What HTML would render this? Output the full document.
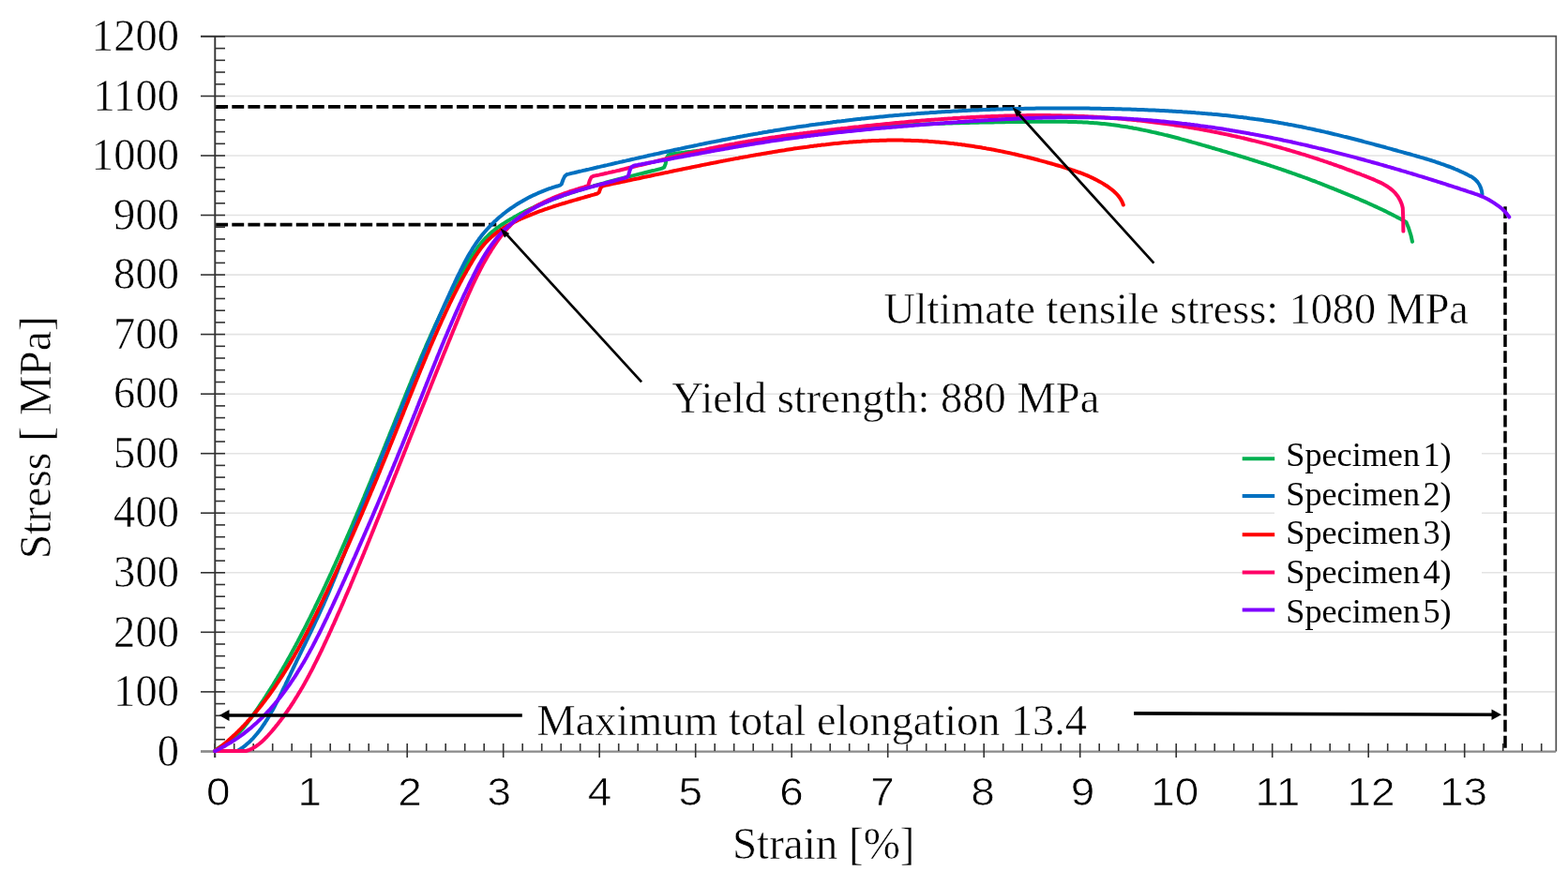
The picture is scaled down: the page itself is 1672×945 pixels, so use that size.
<!DOCTYPE html>
<html><head><meta charset="utf-8"><title>Stress-strain curves</title>
<style>html,body{margin:0;padding:0;background:#fff;width:1672px;height:945px;overflow:hidden}svg{display:block;filter:blur(0.45px)}</style>
</head><body>
<svg width="1672" height="945" viewBox="0 0 1672 945">
<rect width="1672" height="945" fill="#fff"/>
<line x1="229" y1="737.9" x2="1658" y2="737.9" stroke="#e3e3e3" stroke-width="1.6"/>
<line x1="229" y1="674.3" x2="1658" y2="674.3" stroke="#e3e3e3" stroke-width="1.6"/>
<line x1="229" y1="610.8" x2="1658" y2="610.8" stroke="#e3e3e3" stroke-width="1.6"/>
<line x1="229" y1="547.2" x2="1658" y2="547.2" stroke="#e3e3e3" stroke-width="1.6"/>
<line x1="229" y1="483.7" x2="1658" y2="483.7" stroke="#e3e3e3" stroke-width="1.6"/>
<line x1="229" y1="420.2" x2="1658" y2="420.2" stroke="#e3e3e3" stroke-width="1.6"/>
<line x1="229" y1="356.6" x2="1658" y2="356.6" stroke="#e3e3e3" stroke-width="1.6"/>
<line x1="229" y1="293.1" x2="1658" y2="293.1" stroke="#e3e3e3" stroke-width="1.6"/>
<line x1="229" y1="229.5" x2="1658" y2="229.5" stroke="#e3e3e3" stroke-width="1.6"/>
<line x1="229" y1="166" x2="1658" y2="166" stroke="#e3e3e3" stroke-width="1.6"/>
<line x1="229" y1="102.5" x2="1658" y2="102.5" stroke="#e3e3e3" stroke-width="1.6"/>
<path d="M214 38.6H1659.3V801.5" fill="none" stroke="#505050" stroke-width="1.7"/>
<rect x="1359" y="462" width="221" height="205" fill="#fff"/>
<line x1="229.3" y1="38" x2="229.3" y2="808" stroke="#333" stroke-width="1.9"/>
<line x1="214" y1="801.4" x2="240" y2="801.4" stroke="#333" stroke-width="1.6"/>
<line x1="229" y1="788.7" x2="240" y2="788.7" stroke="#333" stroke-width="1.6"/>
<line x1="229" y1="776" x2="240" y2="776" stroke="#333" stroke-width="1.6"/>
<line x1="229" y1="763.3" x2="240" y2="763.3" stroke="#333" stroke-width="1.6"/>
<line x1="229" y1="750.6" x2="240" y2="750.6" stroke="#333" stroke-width="1.6"/>
<line x1="214" y1="737.9" x2="240" y2="737.9" stroke="#333" stroke-width="1.6"/>
<line x1="229" y1="725.2" x2="240" y2="725.2" stroke="#333" stroke-width="1.6"/>
<line x1="229" y1="712.4" x2="240" y2="712.4" stroke="#333" stroke-width="1.6"/>
<line x1="229" y1="699.7" x2="240" y2="699.7" stroke="#333" stroke-width="1.6"/>
<line x1="229" y1="687" x2="240" y2="687" stroke="#333" stroke-width="1.6"/>
<line x1="214" y1="674.3" x2="240" y2="674.3" stroke="#333" stroke-width="1.6"/>
<line x1="229" y1="661.6" x2="240" y2="661.6" stroke="#333" stroke-width="1.6"/>
<line x1="229" y1="648.9" x2="240" y2="648.9" stroke="#333" stroke-width="1.6"/>
<line x1="229" y1="636.2" x2="240" y2="636.2" stroke="#333" stroke-width="1.6"/>
<line x1="229" y1="623.5" x2="240" y2="623.5" stroke="#333" stroke-width="1.6"/>
<line x1="214" y1="610.8" x2="240" y2="610.8" stroke="#333" stroke-width="1.6"/>
<line x1="229" y1="598.1" x2="240" y2="598.1" stroke="#333" stroke-width="1.6"/>
<line x1="229" y1="585.4" x2="240" y2="585.4" stroke="#333" stroke-width="1.6"/>
<line x1="229" y1="572.7" x2="240" y2="572.7" stroke="#333" stroke-width="1.6"/>
<line x1="229" y1="559.9" x2="240" y2="559.9" stroke="#333" stroke-width="1.6"/>
<line x1="214" y1="547.2" x2="240" y2="547.2" stroke="#333" stroke-width="1.6"/>
<line x1="229" y1="534.5" x2="240" y2="534.5" stroke="#333" stroke-width="1.6"/>
<line x1="229" y1="521.8" x2="240" y2="521.8" stroke="#333" stroke-width="1.6"/>
<line x1="229" y1="509.1" x2="240" y2="509.1" stroke="#333" stroke-width="1.6"/>
<line x1="229" y1="496.4" x2="240" y2="496.4" stroke="#333" stroke-width="1.6"/>
<line x1="214" y1="483.7" x2="240" y2="483.7" stroke="#333" stroke-width="1.6"/>
<line x1="229" y1="471" x2="240" y2="471" stroke="#333" stroke-width="1.6"/>
<line x1="229" y1="458.3" x2="240" y2="458.3" stroke="#333" stroke-width="1.6"/>
<line x1="229" y1="445.6" x2="240" y2="445.6" stroke="#333" stroke-width="1.6"/>
<line x1="229" y1="432.9" x2="240" y2="432.9" stroke="#333" stroke-width="1.6"/>
<line x1="214" y1="420.2" x2="240" y2="420.2" stroke="#333" stroke-width="1.6"/>
<line x1="229" y1="407.5" x2="240" y2="407.5" stroke="#333" stroke-width="1.6"/>
<line x1="229" y1="394.7" x2="240" y2="394.7" stroke="#333" stroke-width="1.6"/>
<line x1="229" y1="382" x2="240" y2="382" stroke="#333" stroke-width="1.6"/>
<line x1="229" y1="369.3" x2="240" y2="369.3" stroke="#333" stroke-width="1.6"/>
<line x1="214" y1="356.6" x2="240" y2="356.6" stroke="#333" stroke-width="1.6"/>
<line x1="229" y1="343.9" x2="240" y2="343.9" stroke="#333" stroke-width="1.6"/>
<line x1="229" y1="331.2" x2="240" y2="331.2" stroke="#333" stroke-width="1.6"/>
<line x1="229" y1="318.5" x2="240" y2="318.5" stroke="#333" stroke-width="1.6"/>
<line x1="229" y1="305.8" x2="240" y2="305.8" stroke="#333" stroke-width="1.6"/>
<line x1="214" y1="293.1" x2="240" y2="293.1" stroke="#333" stroke-width="1.6"/>
<line x1="229" y1="280.4" x2="240" y2="280.4" stroke="#333" stroke-width="1.6"/>
<line x1="229" y1="267.7" x2="240" y2="267.7" stroke="#333" stroke-width="1.6"/>
<line x1="229" y1="255" x2="240" y2="255" stroke="#333" stroke-width="1.6"/>
<line x1="229" y1="242.2" x2="240" y2="242.2" stroke="#333" stroke-width="1.6"/>
<line x1="214" y1="229.5" x2="240" y2="229.5" stroke="#333" stroke-width="1.6"/>
<line x1="229" y1="216.8" x2="240" y2="216.8" stroke="#333" stroke-width="1.6"/>
<line x1="229" y1="204.1" x2="240" y2="204.1" stroke="#333" stroke-width="1.6"/>
<line x1="229" y1="191.4" x2="240" y2="191.4" stroke="#333" stroke-width="1.6"/>
<line x1="229" y1="178.7" x2="240" y2="178.7" stroke="#333" stroke-width="1.6"/>
<line x1="214" y1="166" x2="240" y2="166" stroke="#333" stroke-width="1.6"/>
<line x1="229" y1="153.3" x2="240" y2="153.3" stroke="#333" stroke-width="1.6"/>
<line x1="229" y1="140.6" x2="240" y2="140.6" stroke="#333" stroke-width="1.6"/>
<line x1="229" y1="127.9" x2="240" y2="127.9" stroke="#333" stroke-width="1.6"/>
<line x1="229" y1="115.2" x2="240" y2="115.2" stroke="#333" stroke-width="1.6"/>
<line x1="214" y1="102.5" x2="240" y2="102.5" stroke="#333" stroke-width="1.6"/>
<line x1="229" y1="89.8" x2="240" y2="89.8" stroke="#333" stroke-width="1.6"/>
<line x1="229" y1="77" x2="240" y2="77" stroke="#333" stroke-width="1.6"/>
<line x1="229" y1="64.3" x2="240" y2="64.3" stroke="#333" stroke-width="1.6"/>
<line x1="229" y1="51.6" x2="240" y2="51.6" stroke="#333" stroke-width="1.6"/>
<line x1="214" y1="38.9" x2="240" y2="38.9" stroke="#333" stroke-width="1.6"/>
<line x1="214" y1="801.6" x2="1659" y2="801.6" stroke="#8a8a8a" stroke-width="2.2"/>
<line x1="229.2" y1="793" x2="229.2" y2="808" stroke="#333" stroke-width="1.6"/>
<line x1="249.7" y1="793" x2="249.7" y2="801" stroke="#333" stroke-width="1.6"/>
<line x1="270.2" y1="793" x2="270.2" y2="801" stroke="#333" stroke-width="1.6"/>
<line x1="290.7" y1="793" x2="290.7" y2="801" stroke="#333" stroke-width="1.6"/>
<line x1="311.2" y1="793" x2="311.2" y2="801" stroke="#333" stroke-width="1.6"/>
<line x1="331.7" y1="793" x2="331.7" y2="808" stroke="#333" stroke-width="1.6"/>
<line x1="352.2" y1="793" x2="352.2" y2="801" stroke="#333" stroke-width="1.6"/>
<line x1="372.7" y1="793" x2="372.7" y2="801" stroke="#333" stroke-width="1.6"/>
<line x1="393.2" y1="793" x2="393.2" y2="801" stroke="#333" stroke-width="1.6"/>
<line x1="413.7" y1="793" x2="413.7" y2="801" stroke="#333" stroke-width="1.6"/>
<line x1="434.2" y1="793" x2="434.2" y2="808" stroke="#333" stroke-width="1.6"/>
<line x1="454.7" y1="793" x2="454.7" y2="801" stroke="#333" stroke-width="1.6"/>
<line x1="475.2" y1="793" x2="475.2" y2="801" stroke="#333" stroke-width="1.6"/>
<line x1="495.7" y1="793" x2="495.7" y2="801" stroke="#333" stroke-width="1.6"/>
<line x1="516.2" y1="793" x2="516.2" y2="801" stroke="#333" stroke-width="1.6"/>
<line x1="536.7" y1="793" x2="536.7" y2="808" stroke="#333" stroke-width="1.6"/>
<line x1="557.2" y1="793" x2="557.2" y2="801" stroke="#333" stroke-width="1.6"/>
<line x1="577.7" y1="793" x2="577.7" y2="801" stroke="#333" stroke-width="1.6"/>
<line x1="598.2" y1="793" x2="598.2" y2="801" stroke="#333" stroke-width="1.6"/>
<line x1="618.7" y1="793" x2="618.7" y2="801" stroke="#333" stroke-width="1.6"/>
<line x1="639.2" y1="793" x2="639.2" y2="808" stroke="#333" stroke-width="1.6"/>
<line x1="659.7" y1="793" x2="659.7" y2="801" stroke="#333" stroke-width="1.6"/>
<line x1="680.2" y1="793" x2="680.2" y2="801" stroke="#333" stroke-width="1.6"/>
<line x1="700.7" y1="793" x2="700.7" y2="801" stroke="#333" stroke-width="1.6"/>
<line x1="721.2" y1="793" x2="721.2" y2="801" stroke="#333" stroke-width="1.6"/>
<line x1="741.7" y1="793" x2="741.7" y2="808" stroke="#333" stroke-width="1.6"/>
<line x1="762.2" y1="793" x2="762.2" y2="801" stroke="#333" stroke-width="1.6"/>
<line x1="782.7" y1="793" x2="782.7" y2="801" stroke="#333" stroke-width="1.6"/>
<line x1="803.2" y1="793" x2="803.2" y2="801" stroke="#333" stroke-width="1.6"/>
<line x1="823.7" y1="793" x2="823.7" y2="801" stroke="#333" stroke-width="1.6"/>
<line x1="844.2" y1="793" x2="844.2" y2="808" stroke="#333" stroke-width="1.6"/>
<line x1="864.7" y1="793" x2="864.7" y2="801" stroke="#333" stroke-width="1.6"/>
<line x1="885.2" y1="793" x2="885.2" y2="801" stroke="#333" stroke-width="1.6"/>
<line x1="905.7" y1="793" x2="905.7" y2="801" stroke="#333" stroke-width="1.6"/>
<line x1="926.2" y1="793" x2="926.2" y2="801" stroke="#333" stroke-width="1.6"/>
<line x1="946.7" y1="793" x2="946.7" y2="808" stroke="#333" stroke-width="1.6"/>
<line x1="967.2" y1="793" x2="967.2" y2="801" stroke="#333" stroke-width="1.6"/>
<line x1="987.7" y1="793" x2="987.7" y2="801" stroke="#333" stroke-width="1.6"/>
<line x1="1008.2" y1="793" x2="1008.2" y2="801" stroke="#333" stroke-width="1.6"/>
<line x1="1028.7" y1="793" x2="1028.7" y2="801" stroke="#333" stroke-width="1.6"/>
<line x1="1049.2" y1="793" x2="1049.2" y2="808" stroke="#333" stroke-width="1.6"/>
<line x1="1069.7" y1="793" x2="1069.7" y2="801" stroke="#333" stroke-width="1.6"/>
<line x1="1090.2" y1="793" x2="1090.2" y2="801" stroke="#333" stroke-width="1.6"/>
<line x1="1110.7" y1="793" x2="1110.7" y2="801" stroke="#333" stroke-width="1.6"/>
<line x1="1131.2" y1="793" x2="1131.2" y2="801" stroke="#333" stroke-width="1.6"/>
<line x1="1151.7" y1="793" x2="1151.7" y2="808" stroke="#333" stroke-width="1.6"/>
<line x1="1172.2" y1="793" x2="1172.2" y2="801" stroke="#333" stroke-width="1.6"/>
<line x1="1192.7" y1="793" x2="1192.7" y2="801" stroke="#333" stroke-width="1.6"/>
<line x1="1213.2" y1="793" x2="1213.2" y2="801" stroke="#333" stroke-width="1.6"/>
<line x1="1233.7" y1="793" x2="1233.7" y2="801" stroke="#333" stroke-width="1.6"/>
<line x1="1254.2" y1="793" x2="1254.2" y2="808" stroke="#333" stroke-width="1.6"/>
<line x1="1274.7" y1="793" x2="1274.7" y2="801" stroke="#333" stroke-width="1.6"/>
<line x1="1295.2" y1="793" x2="1295.2" y2="801" stroke="#333" stroke-width="1.6"/>
<line x1="1315.7" y1="793" x2="1315.7" y2="801" stroke="#333" stroke-width="1.6"/>
<line x1="1336.2" y1="793" x2="1336.2" y2="801" stroke="#333" stroke-width="1.6"/>
<line x1="1356.7" y1="793" x2="1356.7" y2="808" stroke="#333" stroke-width="1.6"/>
<line x1="1377.2" y1="793" x2="1377.2" y2="801" stroke="#333" stroke-width="1.6"/>
<line x1="1397.7" y1="793" x2="1397.7" y2="801" stroke="#333" stroke-width="1.6"/>
<line x1="1418.2" y1="793" x2="1418.2" y2="801" stroke="#333" stroke-width="1.6"/>
<line x1="1438.7" y1="793" x2="1438.7" y2="801" stroke="#333" stroke-width="1.6"/>
<line x1="1459.2" y1="793" x2="1459.2" y2="808" stroke="#333" stroke-width="1.6"/>
<line x1="1479.7" y1="793" x2="1479.7" y2="801" stroke="#333" stroke-width="1.6"/>
<line x1="1500.2" y1="793" x2="1500.2" y2="801" stroke="#333" stroke-width="1.6"/>
<line x1="1520.7" y1="793" x2="1520.7" y2="801" stroke="#333" stroke-width="1.6"/>
<line x1="1541.2" y1="793" x2="1541.2" y2="801" stroke="#333" stroke-width="1.6"/>
<line x1="1561.7" y1="793" x2="1561.7" y2="808" stroke="#333" stroke-width="1.6"/>
<line x1="1582.2" y1="793" x2="1582.2" y2="801" stroke="#333" stroke-width="1.6"/>
<line x1="1602.7" y1="793" x2="1602.7" y2="801" stroke="#333" stroke-width="1.6"/>
<line x1="1623.2" y1="793" x2="1623.2" y2="801" stroke="#333" stroke-width="1.6"/>
<line x1="1643.7" y1="793" x2="1643.7" y2="801" stroke="#333" stroke-width="1.6"/>
<line x1="230.2" y1="113.9" x2="1088.6" y2="113.9" stroke="#000" stroke-width="3.7" stroke-dasharray="12.9 4.215"/>
<line x1="230.2" y1="239.6" x2="529.3" y2="239.6" stroke="#000" stroke-width="3.7" stroke-dasharray="12.9 4.215"/>
<line x1="1605" y1="220.2" x2="1605" y2="801" stroke="#000" stroke-width="3.5" stroke-dasharray="12.8 4.31"/>
<path d="M229.2 801.1L230.6 799.7L232.1 798.5L233.8 797.3L235.5 796.2L237.3 795.1L239.0 794.1L240.8 793.0L242.5 791.9L244.2 790.8L245.9 789.6L247.4 788.3L249.0 787.0L250.5 785.7L251.9 784.4L253.4 783.0L254.8 781.6L256.1 780.1L257.5 778.7L258.8 777.2L260.0 775.7L261.3 774.1L262.5 772.6L263.7 771.0L264.9 769.4L266.1 767.8L267.3 766.2L268.4 764.6L269.6 763.0L270.7 761.4L271.9 759.7L273.0 758.1L274.2 756.5L275.3 754.8L276.4 753.2L277.5 751.5L278.6 749.9L279.8 748.2L280.9 746.6L281.9 744.9L283.0 743.3L284.1 741.6L285.2 739.9L286.3 738.2L287.3 736.5L288.4 734.9L289.5 733.2L290.5 731.5L291.6 729.8L292.6 728.1L293.6 726.4L294.7 724.7L295.7 723.0L296.7 721.2L297.8 719.5L298.8 717.8L299.8 716.1L300.8 714.4L301.8 712.6L302.8 710.9L303.8 709.2L304.8 707.4L305.8 705.7L306.7 704.0L307.7 702.2L308.7 700.5L309.7 698.7L310.6 697.0L311.6 695.2L312.5 693.4L313.5 691.7L314.4 689.9L315.4 688.2L316.3 686.4L317.3 684.6L318.2 682.8L319.1 681.1L320.1 679.3L321.0 677.5L321.9 675.7L322.8 674.0L323.7 672.2L324.7 670.4L325.6 668.6L326.5 666.8L327.4 665.0L328.3 663.2L329.2 661.4L330.1 659.6L331.0 657.9L331.8 656.1L332.7 654.3L333.6 652.5L334.5 650.7L335.4 648.9L336.2 647.0L337.1 645.2L338.0 643.4L338.8 641.6L339.7 639.8L340.6 638.0L341.4 636.2L342.3 634.4L343.2 632.6L344.0 630.8L344.9 629.0L345.7 627.1L346.6 625.3L347.4 623.5L348.2 621.7L349.1 619.9L349.9 618.1L350.8 616.2L351.6 614.4L352.4 612.6L353.3 610.8L354.1 609.0L354.9 607.1L355.7 605.3L356.6 603.5L357.4 601.7L358.2 599.8L359.0 598.0L359.8 596.2L360.7 594.3L361.5 592.5L362.3 590.7L363.1 588.9L363.9 587.0L364.7 585.2L365.5 583.4L366.3 581.5L367.1 579.7L367.9 577.9L368.7 576.0L369.5 574.2L370.3 572.4L371.1 570.5L371.9 568.7L372.7 566.8L373.5 565.0L374.3 563.2L375.1 561.3L375.9 559.5L376.6 557.6L377.4 555.8L378.2 554.0L379.0 552.1L379.8 550.3L380.5 548.4L381.3 546.6L382.1 544.8L382.9 542.9L383.7 541.1L384.4 539.2L385.2 537.4L386.0 535.5L386.7 533.7L387.5 531.8L388.3 530.0L389.0 528.1L389.8 526.3L390.6 524.4L391.3 522.6L392.1 520.7L392.9 518.9L393.6 517.0L394.4 515.2L395.2 513.3L395.9 511.5L396.7 509.6L397.4 507.8L398.2 505.9L399.0 504.1L399.7 502.2L400.5 500.4L401.2 498.5L402.0 496.7L402.7 494.8L403.5 493.0L404.2 491.1L405.0 489.3L405.8 487.4L406.5 485.6L407.3 483.7L408.0 481.8L408.8 480.0L409.5 478.1L410.3 476.3L411.0 474.4L411.8 472.6L412.5 470.7L413.3 468.9L414.0 467.0L414.8 465.2L415.5 463.3L416.3 461.4L417.0 459.6L417.8 457.7L418.5 455.9L419.3 454.0L420.0 452.2L420.8 450.3L421.5 448.5L422.3 446.6L423.0 444.7L423.8 442.9L424.5 441.0L425.3 439.2L426.0 437.3L426.8 435.5L427.5 433.6L428.3 431.8L429.0 429.9L429.8 428.0L430.5 426.2L431.3 424.3L432.0 422.5L432.8 420.6L433.5 418.8L434.3 416.9L435.0 415.1L435.8 413.2L436.6 411.4L437.3 409.5L438.1 407.7L438.8 405.8L439.6 403.9L440.4 402.1L441.1 400.2L441.9 398.4L442.6 396.5L443.4 394.7L444.2 392.9L444.9 391.0L445.7 389.2L446.5 387.3L447.3 385.5L448.0 383.6L448.8 381.8L449.6 379.9L450.4 378.1L451.2 376.3L452.0 374.4L452.8 372.6L453.6 370.7L454.3 368.9L455.1 367.1L455.9 365.2L456.8 363.4L457.6 361.6L458.4 359.8L459.2 357.9L460.0 356.1L460.8 354.3L461.6 352.5L462.5 350.6L463.3 348.8L464.1 347.0L465.0 345.2L465.8 343.4L466.7 341.6L467.5 339.7L468.4 337.9L469.2 336.1L470.1 334.3L471.0 332.5L471.8 330.7L472.7 328.9L473.6 327.1L474.5 325.3L475.4 323.5L476.3 321.8L477.2 320.0L478.1 318.2L479.0 316.4L479.9 314.6L480.8 312.8L481.7 311.1L482.7 309.3L483.6 307.5L484.5 305.8L485.5 304.0L486.4 302.2L487.4 300.5L488.4 298.7L489.3 297.0L490.3 295.2L491.3 293.5L492.3 291.7L493.3 290.0L494.3 288.2L495.3 286.5L496.3 284.8L497.3 283.0L498.4 281.3L499.4 279.6L500.4 277.9L501.5 276.1L502.5 274.4L503.6 272.7L504.7 271.1L505.8 269.4L506.9 267.7L508.1 266.1L509.2 264.4L510.4 262.8L511.6 261.2L512.8 259.7L514.1 258.1L515.4 256.6L516.7 255.1L518.0 253.7L519.4 252.3L520.8 250.9L522.3 249.5L523.7 248.2L525.3 246.9L526.8 245.7L528.4 244.4L530.0 243.2L531.6 242.1L533.2 240.9L534.9 239.8L536.6 238.7L538.3 237.6L540.0 236.5L541.7 235.5L543.4 234.5L545.1 233.4L546.9 232.4L548.6 231.4L550.4 230.5L552.1 229.5L553.9 228.6L555.7 227.6L557.4 226.7L559.2 225.8L561.0 224.9L562.8 224.0L564.6 223.2L566.4 222.3L568.3 221.5L570.1 220.6L571.9 219.8L573.7 219.0L575.6 218.2L577.4 217.4L579.3 216.7L581.1 215.9L583.0 215.1L584.8 214.4L586.7 213.7L588.6 212.9L590.4 212.2L592.3 211.5L594.2 210.8L596.1 210.2L598.0 209.5L599.9 208.8L601.7 208.2L603.6 207.5L605.5 206.9L607.4 206.2L609.3 205.6L611.2 205.0L613.1 204.4L615.0 203.8L617.0 203.2L618.9 202.6L620.8 202.0L622.7 201.4L624.6 200.8L626.5 200.2L628.5 199.7L630.4 199.1L632.3 198.6L634.2 198.0L636.2 197.5L638.1 196.9L640.0 196.4L641.9 195.9L643.9 195.4L645.8 194.8L647.7 194.3L649.7 193.8L651.6 193.3L653.6 192.8L655.5 192.3L657.4 191.8L659.4 191.3L661.3 190.8L663.3 190.3L665.2 189.8L667.1 189.3L669.1 188.8L671.0 188.3L673.0 187.9L674.9 187.4L676.9 186.9L678.8 186.4L680.7 185.9L682.7 185.4L684.6 185.0L686.6 184.5L688.5 184.0L690.5 183.5L692.4 183.0L694.4 182.5L696.3 182.0L698.2 181.6L700.2 181.1L702.1 180.6L704.1 180.1L706.0 179.6L708.2 178.4L709.6 175.0L710.8 168.8L712.5 165.6L714.5 164.6L714.5 164.4L716.5 164.2L718.5 164.0L720.5 163.7L722.5 163.5L724.4 163.3L726.4 163.1L728.4 162.8L730.4 162.6L732.4 162.3L734.4 162.1L736.4 161.9L738.4 161.6L740.3 161.3L742.3 161.1L744.3 160.8L746.3 160.6L748.3 160.3L750.3 160.0L752.3 159.8L754.2 159.5L756.2 159.2L758.2 159.0L760.2 158.7L762.2 158.4L764.2 158.1L766.1 157.8L768.1 157.6L770.1 157.3L772.1 157.0L774.1 156.7L776.1 156.4L778.0 156.1L780.0 155.8L782.0 155.5L784.0 155.2L786.0 154.9L788.0 154.7L789.9 154.4L791.9 154.1L793.9 153.8L795.9 153.5L797.9 153.2L799.8 152.9L801.8 152.6L803.8 152.3L805.8 152.0L807.8 151.7L809.7 151.4L811.7 151.1L813.7 150.8L815.7 150.5L817.7 150.2L819.7 149.9L821.6 149.6L823.6 149.3L825.6 149.0L827.6 148.7L829.6 148.4L831.5 148.1L833.5 147.8L835.5 147.5L837.5 147.2L839.5 146.9L841.5 146.6L843.4 146.3L845.4 146.0L847.4 145.8L849.4 145.5L851.4 145.2L853.4 144.9L855.3 144.6L857.3 144.3L859.3 144.1L861.3 143.8L863.3 143.5L865.3 143.3L867.2 143.0L869.2 142.7L871.2 142.5L873.2 142.2L875.2 141.9L877.2 141.7L879.2 141.4L881.1 141.2L883.1 140.9L885.1 140.7L887.1 140.5L889.1 140.2L891.1 140.0L893.1 139.8L895.1 139.5L897.0 139.3L899.0 139.1L901.0 138.9L903.0 138.6L905.0 138.4L907.0 138.2L909.0 138.0L911.0 137.8L913.0 137.6L915.0 137.4L917.0 137.3L918.9 137.1L920.9 136.9L922.9 136.7L924.9 136.5L926.9 136.4L928.9 136.2L930.9 136.0L932.9 135.9L934.9 135.7L936.9 135.5L938.9 135.4L940.9 135.2L942.9 135.1L944.9 134.9L946.9 134.8L948.9 134.7L950.9 134.5L952.9 134.4L954.9 134.2L956.9 134.1L958.9 134.0L960.9 133.9L962.9 133.7L964.9 133.6L966.9 133.5L968.9 133.4L970.9 133.3L972.9 133.2L974.9 133.1L976.9 133.0L978.9 132.9L980.9 132.8L982.9 132.7L984.9 132.6L986.9 132.5L988.9 132.4L990.9 132.3L992.9 132.2L994.9 132.1L996.9 132.1L998.9 132.0L1000.9 131.9L1002.9 131.8L1004.9 131.7L1006.9 131.7L1008.9 131.6L1010.9 131.5L1012.9 131.5L1014.9 131.4L1016.9 131.3L1018.9 131.3L1020.9 131.2L1022.9 131.2L1025.0 131.1L1027.0 131.0L1029.0 131.0L1031.0 130.9L1033.0 130.9L1035.0 130.8L1037.0 130.8L1039.0 130.8L1041.0 130.7L1043.0 130.7L1045.0 130.6L1047.0 130.6L1049.0 130.5L1051.0 130.5L1053.0 130.5L1055.0 130.4L1057.0 130.4L1059.1 130.4L1061.1 130.3L1063.1 130.3L1065.1 130.3L1067.1 130.2L1069.1 130.2L1071.1 130.2L1073.1 130.1L1075.1 130.1L1077.1 130.1L1079.1 130.1L1081.1 130.0L1083.1 130.0L1085.1 130.0L1087.1 130.0L1089.1 129.9L1091.2 129.9L1093.2 129.9L1095.2 129.9L1097.2 129.9L1099.2 129.8L1101.2 129.8L1103.2 129.8L1105.2 129.8L1107.2 129.8L1109.2 129.8L1111.2 129.7L1113.2 129.7L1115.2 129.7L1117.2 129.7L1119.2 129.7L1121.2 129.7L1123.2 129.7L1125.3 129.7L1127.3 129.7L1129.3 129.7L1131.3 129.8L1133.3 129.8L1135.3 129.8L1137.3 129.8L1139.3 129.9L1141.3 129.9L1143.3 130.0L1145.3 130.0L1147.3 130.1L1149.3 130.2L1151.3 130.2L1153.3 130.3L1155.2 130.4L1157.2 130.5L1159.2 130.6L1161.2 130.8L1163.2 130.9L1165.2 131.0L1167.2 131.2L1169.2 131.3L1171.2 131.5L1173.2 131.7L1175.1 131.9L1177.1 132.1L1179.1 132.3L1181.1 132.5L1183.1 132.7L1185.1 133.0L1187.0 133.2L1189.0 133.5L1191.0 133.8L1193.0 134.1L1194.9 134.4L1196.9 134.7L1198.9 135.0L1200.9 135.3L1202.8 135.6L1204.8 136.0L1206.8 136.3L1208.7 136.7L1210.7 137.0L1212.7 137.4L1214.6 137.8L1216.6 138.2L1218.6 138.6L1220.5 139.0L1222.5 139.4L1224.4 139.8L1226.4 140.2L1228.4 140.7L1230.3 141.1L1232.3 141.5L1234.2 142.0L1236.2 142.5L1238.1 142.9L1240.1 143.4L1242.0 143.9L1244.0 144.3L1245.9 144.8L1247.9 145.3L1249.8 145.8L1251.8 146.3L1253.7 146.8L1255.7 147.3L1257.6 147.8L1259.6 148.4L1261.5 148.9L1263.4 149.4L1265.4 149.9L1267.3 150.5L1269.3 151.0L1271.2 151.6L1273.1 152.1L1275.1 152.6L1277.0 153.2L1278.9 153.7L1280.9 154.3L1282.8 154.9L1284.7 155.4L1286.7 156.0L1288.6 156.5L1290.5 157.1L1292.5 157.7L1294.4 158.2L1296.3 158.8L1298.3 159.4L1300.2 159.9L1302.1 160.5L1304.0 161.1L1305.9 161.6L1307.9 162.2L1309.8 162.8L1311.7 163.4L1313.6 163.9L1315.6 164.5L1317.5 165.1L1319.4 165.7L1321.3 166.3L1323.2 166.8L1325.1 167.4L1327.1 168.0L1329.0 168.6L1330.9 169.2L1332.8 169.8L1334.7 170.4L1336.6 171.0L1338.5 171.6L1340.4 172.2L1342.3 172.8L1344.2 173.4L1346.1 174.0L1348.0 174.6L1349.9 175.2L1351.8 175.8L1353.7 176.4L1355.6 177.1L1357.5 177.7L1359.4 178.3L1361.3 178.9L1363.2 179.6L1365.1 180.2L1367.0 180.8L1368.9 181.5L1370.8 182.1L1372.7 182.8L1374.6 183.5L1376.5 184.1L1378.4 184.8L1380.2 185.4L1382.1 186.1L1384.0 186.8L1385.9 187.5L1387.8 188.2L1389.7 188.8L1391.5 189.5L1393.4 190.2L1395.3 190.9L1397.2 191.6L1399.0 192.3L1400.9 193.0L1402.8 193.7L1404.7 194.5L1406.5 195.2L1408.4 195.9L1410.3 196.6L1412.1 197.4L1414.0 198.1L1415.9 198.8L1417.7 199.6L1419.6 200.3L1421.5 201.0L1423.3 201.8L1425.2 202.5L1427.0 203.3L1428.9 204.0L1430.7 204.8L1432.6 205.6L1434.4 206.3L1436.3 207.1L1438.1 207.9L1440.0 208.6L1441.8 209.4L1443.7 210.2L1445.5 211.0L1447.4 211.7L1449.2 212.5L1451.1 213.3L1452.9 214.1L1454.7 214.9L1456.6 215.7L1458.4 216.5L1460.2 217.3L1462.0 218.2L1463.9 219.0L1465.7 219.8L1467.5 220.6L1469.3 221.5L1471.1 222.3L1472.9 223.2L1474.7 224.0L1476.5 224.9L1478.3 225.8L1480.1 226.7L1481.9 227.6L1483.7 228.5L1485.5 229.4L1487.2 230.3L1489.0 231.2L1490.8 232.2L1492.5 233.1L1494.3 234.1L1496.0 235.0L1497.8 236.0L1499.5 237.0L1502.0 243.0L1504.5 251.0L1506.0 257.7" fill="none" stroke="#00b050" stroke-width="4.0" stroke-linejoin="round" stroke-linecap="round"/>
<path d="M229.2 801.1L253.0 801.1L254.7 800.0L256.4 798.9L258.1 797.8L259.7 796.6L261.3 795.4L262.8 794.1L264.3 792.8L265.8 791.5L267.2 790.1L268.6 788.7L270.0 787.3L271.3 785.8L272.6 784.3L273.9 782.8L275.1 781.3L276.3 779.8L277.5 778.2L278.7 776.6L279.8 775.0L280.9 773.3L282.1 771.7L283.1 770.0L284.2 768.3L285.3 766.6L286.3 764.9L287.3 763.2L288.3 761.5L289.3 759.7L290.3 758.0L291.3 756.2L292.2 754.5L293.2 752.7L294.1 750.9L295.0 749.1L296.0 747.4L296.9 745.6L297.8 743.8L298.7 741.9L299.6 740.1L300.5 738.3L301.3 736.5L302.2 734.7L303.1 732.9L304.0 731.0L304.8 729.2L305.7 727.4L306.6 725.6L307.4 723.7L308.3 721.9L309.2 720.1L310.0 718.3L310.9 716.4L311.8 714.6L312.6 712.8L313.5 711.0L314.4 709.2L315.3 707.4L316.1 705.5L317.0 703.7L317.9 701.9L318.8 700.1L319.6 698.3L320.5 696.5L321.4 694.7L322.3 692.9L323.1 691.1L324.0 689.3L324.9 687.5L325.8 685.7L326.6 683.9L327.5 682.1L328.4 680.3L329.2 678.5L330.1 676.7L331.0 674.9L331.8 673.1L332.7 671.3L333.5 669.5L334.4 667.7L335.2 665.9L336.1 664.0L336.9 662.2L337.8 660.4L338.6 658.6L339.5 656.8L340.3 655.0L341.1 653.2L341.9 651.4L342.8 649.5L343.6 647.7L344.4 645.9L345.2 644.1L346.0 642.2L346.8 640.4L347.6 638.6L348.4 636.8L349.2 634.9L350.0 633.1L350.8 631.2L351.6 629.4L352.3 627.6L353.1 625.7L353.9 623.9L354.6 622.0L355.4 620.2L356.2 618.3L356.9 616.4L357.7 614.6L358.4 612.7L359.2 610.9L359.9 609.0L360.6 607.1L361.4 605.3L362.1 603.4L362.8 601.5L363.6 599.7L364.3 597.8L365.0 595.9L365.7 594.1L366.5 592.2L367.2 590.3L367.9 588.5L368.6 586.6L369.4 584.7L370.1 582.8L370.8 581.0L371.5 579.1L372.2 577.2L372.9 575.3L373.6 573.4L374.4 571.6L375.1 569.7L375.8 567.8L376.5 565.9L377.2 564.1L377.9 562.2L378.6 560.3L379.4 558.4L380.1 556.6L380.8 554.7L381.5 552.8L382.2 550.9L382.9 549.0L383.7 547.2L384.4 545.3L385.1 543.4L385.8 541.6L386.5 539.7L387.3 537.8L388.0 535.9L388.7 534.1L389.5 532.2L390.2 530.3L390.9 528.5L391.6 526.6L392.4 524.7L393.1 522.9L393.8 521.0L394.6 519.1L395.3 517.3L396.1 515.4L396.8 513.5L397.5 511.7L398.3 509.8L399.0 507.9L399.7 506.1L400.5 504.2L401.2 502.3L402.0 500.5L402.7 498.6L403.5 496.8L404.2 494.9L405.0 493.0L405.7 491.2L406.4 489.3L407.2 487.4L407.9 485.6L408.7 483.7L409.4 481.9L410.2 480.0L410.9 478.2L411.7 476.3L412.4 474.4L413.2 472.6L413.9 470.7L414.7 468.9L415.4 467.0L416.2 465.1L416.9 463.3L417.7 461.4L418.4 459.6L419.2 457.7L419.9 455.9L420.7 454.0L421.5 452.2L422.2 450.3L423.0 448.4L423.7 446.6L424.5 444.7L425.2 442.9L426.0 441.0L426.7 439.2L427.5 437.3L428.2 435.5L429.0 433.6L429.7 431.7L430.5 429.9L431.2 428.0L432.0 426.2L432.7 424.3L433.5 422.5L434.3 420.6L435.0 418.8L435.8 416.9L436.5 415.1L437.3 413.2L438.0 411.3L438.8 409.5L439.5 407.6L440.3 405.8L441.0 403.9L441.8 402.1L442.5 400.2L443.3 398.4L444.0 396.5L444.8 394.7L445.5 392.8L446.3 390.9L447.0 389.1L447.8 387.2L448.5 385.4L449.3 383.5L450.1 381.7L450.8 379.8L451.6 378.0L452.3 376.1L453.1 374.3L453.9 372.4L454.6 370.6L455.4 368.7L456.2 366.9L456.9 365.0L457.7 363.2L458.5 361.3L459.3 359.5L460.0 357.6L460.8 355.8L461.6 353.9L462.4 352.1L463.2 350.3L463.9 348.4L464.7 346.6L465.5 344.7L466.3 342.9L467.1 341.0L467.9 339.2L468.7 337.4L469.5 335.5L470.3 333.7L471.1 331.8L471.9 330.0L472.7 328.2L473.5 326.3L474.3 324.5L475.2 322.7L476.0 320.8L476.8 319.0L477.6 317.2L478.5 315.3L479.3 313.5L480.1 311.7L481.0 309.8L481.8 308.0L482.7 306.2L483.5 304.4L484.4 302.5L485.2 300.7L486.1 298.9L486.9 297.1L487.8 295.2L488.7 293.4L489.6 291.6L490.5 289.8L491.3 288.0L492.3 286.2L493.2 284.4L494.1 282.6L495.0 280.8L496.0 279.0L496.9 277.3L497.9 275.5L498.8 273.8L499.8 272.0L500.8 270.3L501.9 268.6L502.9 266.9L503.9 265.2L505.0 263.5L506.1 261.8L507.2 260.2L508.3 258.5L509.5 256.9L510.6 255.3L511.8 253.7L513.0 252.1L514.2 250.6L515.5 249.0L516.8 247.5L518.1 246.0L519.4 244.5L520.7 243.1L522.1 241.6L523.5 240.2L524.9 238.8L526.3 237.4L527.7 236.0L529.2 234.7L530.7 233.3L532.1 232.0L533.7 230.7L535.2 229.5L536.7 228.2L538.3 227.0L539.9 225.7L541.5 224.5L543.1 223.4L544.7 222.2L546.4 221.1L548.1 220.0L549.7 218.9L551.4 217.8L553.1 216.7L554.8 215.7L556.6 214.7L558.3 213.7L560.1 212.7L561.9 211.7L563.6 210.8L565.4 209.9L567.2 209.0L569.0 208.1L570.9 207.3L572.7 206.5L574.5 205.6L576.4 204.9L578.3 204.1L580.1 203.3L582.0 202.6L583.9 201.9L585.8 201.2L587.7 200.6L589.6 199.9L591.5 199.3L593.4 198.7L595.4 198.2L597.3 197.6L598.8 196.2L600.5 191.5L602.2 188.0L604.5 186.0L606.5 185.6L608.4 185.1L610.4 184.6L612.3 184.2L614.3 183.7L616.2 183.3L618.2 182.8L620.1 182.4L622.1 181.9L624.0 181.5L626.0 181.0L627.9 180.6L629.9 180.1L631.8 179.7L633.8 179.2L635.7 178.8L637.7 178.3L639.6 177.9L641.6 177.4L643.5 177.0L645.5 176.5L647.4 176.1L649.4 175.6L651.3 175.2L653.3 174.7L655.2 174.3L657.2 173.8L659.1 173.4L661.1 172.9L663.1 172.5L665.0 172.0L667.0 171.6L668.9 171.1L670.9 170.7L672.8 170.2L674.8 169.8L676.7 169.4L678.7 168.9L680.6 168.5L682.6 168.0L684.5 167.6L686.5 167.2L688.4 166.7L690.4 166.3L692.3 165.8L694.3 165.4L696.3 165.0L698.2 164.5L700.2 164.1L702.1 163.7L704.1 163.2L706.0 162.8L708.0 162.4L709.9 162.0L711.9 161.5L713.8 161.1L715.8 160.7L717.8 160.3L719.7 159.8L721.7 159.4L723.6 159.0L725.6 158.6L727.5 158.1L729.5 157.7L731.5 157.3L733.4 156.9L735.4 156.5L737.3 156.1L739.3 155.7L741.2 155.3L743.2 154.9L745.2 154.4L747.1 154.0L749.1 153.6L751.0 153.2L753.0 152.8L755.0 152.4L756.9 152.0L758.9 151.6L760.8 151.3L762.8 150.9L764.8 150.5L766.7 150.1L768.7 149.7L770.7 149.3L772.6 148.9L774.6 148.6L776.6 148.2L778.5 147.8L780.5 147.4L782.4 147.0L784.4 146.7L786.4 146.3L788.3 145.9L790.3 145.6L792.3 145.2L794.2 144.8L796.2 144.5L798.2 144.1L800.1 143.8L802.1 143.4L804.1 143.1L806.1 142.7L808.0 142.4L810.0 142.0L812.0 141.7L813.9 141.3L815.9 141.0L817.9 140.7L819.8 140.3L821.8 140.0L823.8 139.7L825.8 139.3L827.7 139.0L829.7 138.7L831.7 138.4L833.7 138.1L835.6 137.7L837.6 137.4L839.6 137.1L841.6 136.8L843.5 136.5L845.5 136.2L847.5 135.9L849.5 135.6L851.5 135.3L853.4 135.0L855.4 134.7L857.4 134.4L859.4 134.2L861.4 133.9L863.3 133.6L865.3 133.3L867.3 133.0L869.3 132.8L871.3 132.5L873.3 132.2L875.2 132.0L877.2 131.7L879.2 131.4L881.2 131.2L883.2 130.9L885.2 130.7L887.2 130.4L889.1 130.1L891.1 129.9L893.1 129.6L895.1 129.4L897.1 129.2L899.1 128.9L901.1 128.7L903.0 128.4L905.0 128.2L907.0 128.0L909.0 127.8L911.0 127.5L913.0 127.3L915.0 127.1L917.0 126.9L919.0 126.6L921.0 126.4L922.9 126.2L924.9 126.0L926.9 125.8L928.9 125.6L930.9 125.4L932.9 125.2L934.9 125.0L936.9 124.8L938.9 124.6L940.9 124.4L942.9 124.2L944.9 124.0L946.9 123.8L948.9 123.6L950.9 123.5L952.9 123.3L954.8 123.1L956.8 122.9L958.8 122.8L960.8 122.6L962.8 122.4L964.8 122.2L966.8 122.1L968.8 121.9L970.8 121.8L972.8 121.6L974.8 121.4L976.8 121.3L978.8 121.1L980.8 121.0L982.8 120.8L984.8 120.7L986.8 120.5L988.8 120.4L990.8 120.3L992.8 120.1L994.8 120.0L996.8 119.9L998.8 119.7L1000.8 119.6L1002.8 119.5L1004.8 119.3L1006.8 119.2L1008.8 119.1L1010.8 119.0L1012.8 118.9L1014.8 118.7L1016.8 118.6L1018.8 118.5L1020.8 118.4L1022.8 118.3L1024.8 118.2L1026.8 118.1L1028.8 118.0L1030.8 117.9L1032.8 117.8L1034.8 117.7L1036.8 117.6L1038.8 117.5L1040.8 117.4L1042.8 117.4L1044.8 117.3L1046.9 117.2L1048.9 117.1L1050.9 117.0L1052.9 116.9L1054.9 116.9L1056.9 116.8L1058.9 116.7L1060.9 116.7L1062.9 116.6L1064.9 116.5L1066.9 116.5L1068.9 116.4L1070.9 116.3L1072.9 116.3L1074.9 116.2L1076.9 116.2L1078.9 116.1L1080.9 116.1L1082.9 116.0L1084.9 116.0L1086.9 115.9L1088.9 115.9L1090.9 115.9L1092.9 115.8L1094.9 115.8L1097.0 115.8L1099.0 115.7L1101.0 115.7L1103.0 115.7L1105.0 115.6L1107.0 115.6L1109.0 115.6L1111.0 115.6L1113.0 115.5L1115.0 115.5L1117.0 115.5L1119.0 115.5L1121.0 115.5L1123.0 115.5L1125.0 115.5L1127.0 115.5L1129.0 115.5L1131.0 115.5L1133.0 115.5L1135.0 115.5L1137.0 115.5L1139.0 115.5L1141.0 115.5L1143.0 115.5L1145.1 115.5L1147.1 115.5L1149.1 115.5L1151.1 115.5L1153.1 115.6L1155.1 115.6L1157.1 115.6L1159.1 115.6L1161.1 115.6L1163.1 115.7L1165.1 115.7L1167.1 115.7L1169.1 115.8L1171.1 115.8L1173.1 115.8L1175.1 115.9L1177.1 115.9L1179.1 115.9L1181.1 116.0L1183.1 116.0L1185.1 116.1L1187.1 116.1L1189.1 116.2L1191.1 116.2L1193.1 116.3L1195.1 116.3L1197.1 116.4L1199.1 116.4L1201.1 116.5L1203.1 116.6L1205.1 116.6L1207.1 116.7L1209.1 116.8L1211.1 116.8L1213.1 116.9L1215.1 117.0L1217.1 117.0L1219.1 117.1L1221.1 117.2L1223.1 117.3L1225.1 117.4L1227.1 117.4L1229.1 117.5L1231.1 117.6L1233.1 117.7L1235.1 117.8L1237.1 117.9L1239.1 118.0L1241.1 118.1L1243.1 118.2L1245.1 118.3L1247.1 118.4L1249.1 118.5L1251.1 118.7L1253.1 118.8L1255.1 118.9L1257.1 119.0L1259.0 119.1L1261.0 119.3L1263.0 119.4L1265.0 119.5L1267.0 119.7L1269.0 119.8L1271.0 120.0L1273.0 120.1L1275.0 120.3L1277.0 120.4L1279.0 120.6L1281.0 120.7L1283.0 120.9L1284.9 121.1L1286.9 121.2L1288.9 121.4L1290.9 121.6L1292.9 121.8L1294.9 121.9L1296.9 122.1L1298.9 122.3L1300.9 122.5L1302.8 122.7L1304.8 122.9L1306.8 123.1L1308.8 123.3L1310.8 123.5L1312.8 123.8L1314.8 124.0L1316.7 124.2L1318.7 124.4L1320.7 124.7L1322.7 124.9L1324.7 125.1L1326.7 125.4L1328.6 125.6L1330.6 125.9L1332.6 126.2L1334.6 126.4L1336.6 126.7L1338.5 127.0L1340.5 127.2L1342.5 127.5L1344.5 127.8L1346.4 128.1L1348.4 128.4L1350.4 128.7L1352.4 129.0L1354.4 129.3L1356.3 129.6L1358.3 129.9L1360.3 130.3L1362.2 130.6L1364.2 130.9L1366.2 131.3L1368.2 131.6L1370.1 132.0L1372.1 132.3L1374.1 132.7L1376.0 133.0L1378.0 133.4L1380.0 133.8L1382.0 134.2L1383.9 134.6L1385.9 134.9L1387.9 135.3L1389.8 135.7L1391.8 136.1L1393.8 136.6L1395.7 137.0L1397.7 137.4L1399.6 137.8L1401.6 138.2L1403.6 138.7L1405.5 139.1L1407.5 139.5L1409.4 140.0L1411.4 140.4L1413.4 140.9L1415.3 141.3L1417.3 141.8L1419.2 142.2L1421.2 142.7L1423.1 143.2L1425.1 143.6L1427.1 144.1L1429.0 144.6L1431.0 145.1L1432.9 145.6L1434.9 146.0L1436.8 146.5L1438.8 147.0L1440.7 147.5L1442.7 148.0L1444.6 148.5L1446.6 149.0L1448.5 149.5L1450.5 150.0L1452.4 150.5L1454.4 151.1L1456.3 151.6L1458.2 152.1L1460.2 152.6L1462.1 153.1L1464.1 153.6L1466.0 154.2L1468.0 154.7L1469.9 155.2L1471.8 155.7L1473.8 156.3L1475.7 156.8L1477.6 157.3L1479.6 157.9L1481.5 158.4L1483.4 158.9L1485.4 159.5L1487.3 160.0L1489.2 160.5L1491.2 161.1L1493.1 161.6L1495.0 162.1L1497.0 162.7L1498.9 163.2L1500.8 163.8L1502.8 164.3L1504.7 164.8L1506.6 165.4L1508.5 165.9L1510.5 166.5L1512.4 167.0L1514.3 167.6L1516.2 168.1L1518.1 168.7L1520.0 169.3L1521.9 169.8L1523.8 170.4L1525.8 171.0L1527.6 171.6L1529.5 172.2L1531.4 172.9L1533.3 173.5L1535.2 174.1L1537.1 174.8L1539.0 175.4L1540.8 176.1L1542.7 176.8L1544.6 177.5L1546.4 178.2L1548.3 178.9L1550.1 179.7L1552.0 180.5L1553.8 181.2L1555.6 182.0L1557.4 182.8L1559.3 183.7L1561.1 184.5L1562.9 185.4L1564.7 186.3L1566.4 187.2L1568.2 188.1L1570.0 189.1L1573.0 191.4L1575.5 194.0L1577.5 197.0L1579.0 200.3L1580.0 203.8L1580.5 207.1" fill="none" stroke="#0070c0" stroke-width="4.0" stroke-linejoin="round" stroke-linecap="round"/>
<path d="M229.2 801.1L230.8 799.9L232.4 798.7L234.0 797.5L235.6 796.3L237.1 795.0L238.7 793.7L240.2 792.5L241.8 791.2L243.3 789.9L244.8 788.6L246.3 787.2L247.7 785.9L249.2 784.5L250.7 783.2L252.1 781.8L253.6 780.4L255.0 779.0L256.4 777.6L257.8 776.2L259.2 774.7L260.6 773.3L261.9 771.8L263.3 770.4L264.6 768.9L266.0 767.4L267.3 765.9L268.6 764.4L269.9 762.9L271.2 761.4L272.5 759.9L273.8 758.4L275.0 756.8L276.3 755.3L277.5 753.8L278.8 752.2L280.0 750.6L281.2 749.1L282.4 747.5L283.6 745.9L284.8 744.3L286.0 742.7L287.2 741.1L288.3 739.5L289.5 737.9L290.6 736.2L291.8 734.6L292.9 733.0L294.0 731.3L295.1 729.7L296.2 728.0L297.3 726.4L298.4 724.7L299.5 723.0L300.6 721.4L301.7 719.7L302.7 718.0L303.8 716.3L304.8 714.6L305.9 712.9L306.9 711.2L307.9 709.5L308.9 707.8L310.0 706.1L311.0 704.3L312.0 702.6L313.0 700.9L314.0 699.2L314.9 697.4L315.9 695.7L316.9 693.9L317.9 692.2L318.8 690.4L319.8 688.7L320.7 686.9L321.7 685.1L322.6 683.4L323.6 681.6L324.5 679.8L325.4 678.1L326.4 676.3L327.3 674.5L328.2 672.7L329.1 670.9L330.0 669.2L330.9 667.4L331.8 665.6L332.7 663.8L333.6 662.0L334.5 660.2L335.4 658.4L336.3 656.6L337.2 654.8L338.1 653.0L338.9 651.2L339.8 649.4L340.7 647.6L341.6 645.8L342.4 644.0L343.3 642.2L344.2 640.3L345.0 638.5L345.9 636.7L346.7 634.9L347.6 633.1L348.5 631.3L349.3 629.5L350.2 627.7L351.0 625.8L351.9 624.0L352.7 622.2L353.6 620.4L354.4 618.6L355.2 616.8L356.1 615.0L356.9 613.1L357.8 611.3L358.6 609.5L359.4 607.7L360.3 605.9L361.1 604.0L361.9 602.2L362.8 600.4L363.6 598.6L364.4 596.8L365.2 594.9L366.1 593.1L366.9 591.3L367.7 589.5L368.5 587.6L369.3 585.8L370.1 584.0L371.0 582.2L371.8 580.3L372.6 578.5L373.4 576.7L374.2 574.8L375.0 573.0L375.8 571.2L376.6 569.4L377.4 567.5L378.2 565.7L379.0 563.9L379.8 562.0L380.6 560.2L381.4 558.4L382.2 556.5L383.0 554.7L383.8 552.9L384.6 551.0L385.4 549.2L386.2 547.4L386.9 545.5L387.7 543.7L388.5 541.9L389.3 540.0L390.1 538.2L390.9 536.3L391.6 534.5L392.4 532.7L393.2 530.8L394.0 529.0L394.8 527.1L395.5 525.3L396.3 523.5L397.1 521.6L397.9 519.8L398.6 517.9L399.4 516.1L400.2 514.3L400.9 512.4L401.7 510.6L402.5 508.7L403.2 506.9L404.0 505.0L404.8 503.2L405.5 501.3L406.3 499.5L407.0 497.6L407.8 495.8L408.5 494.0L409.3 492.1L410.1 490.3L410.8 488.4L411.6 486.6L412.3 484.7L413.1 482.9L413.8 481.0L414.6 479.2L415.3 477.3L416.1 475.4L416.8 473.6L417.6 471.7L418.3 469.9L419.1 468.0L419.8 466.2L420.6 464.3L421.3 462.5L422.1 460.6L422.8 458.8L423.5 456.9L424.3 455.1L425.0 453.2L425.8 451.3L426.5 449.5L427.2 447.6L428.0 445.8L428.7 443.9L429.5 442.1L430.2 440.2L430.9 438.3L431.7 436.5L432.4 434.6L433.2 432.8L433.9 430.9L434.7 429.1L435.4 427.2L436.1 425.3L436.9 423.5L437.6 421.6L438.4 419.8L439.1 417.9L439.9 416.1L440.6 414.2L441.4 412.3L442.1 410.5L442.9 408.6L443.6 406.8L444.4 404.9L445.1 403.1L445.9 401.2L446.6 399.4L447.4 397.5L448.1 395.7L448.9 393.8L449.7 392.0L450.4 390.1L451.2 388.3L452.0 386.4L452.7 384.6L453.5 382.7L454.3 380.9L455.0 379.0L455.8 377.2L456.6 375.4L457.4 373.5L458.1 371.7L458.9 369.8L459.7 368.0L460.5 366.2L461.3 364.3L462.1 362.5L462.9 360.6L463.7 358.8L464.5 357.0L465.3 355.1L466.1 353.3L466.9 351.5L467.7 349.6L468.5 347.8L469.4 346.0L470.2 344.2L471.0 342.3L471.8 340.5L472.7 338.7L473.5 336.9L474.3 335.1L475.2 333.2L476.0 331.4L476.9 329.6L477.7 327.8L478.6 326.0L479.4 324.2L480.3 322.4L481.2 320.6L482.0 318.8L482.9 317.0L483.8 315.2L484.7 313.4L485.6 311.6L486.5 309.8L487.4 308.0L488.3 306.3L489.2 304.5L490.2 302.7L491.1 300.9L492.1 299.2L493.0 297.4L494.0 295.6L494.9 293.9L495.9 292.1L496.9 290.4L497.8 288.6L498.8 286.9L499.8 285.2L500.8 283.4L501.9 281.7L502.9 280.0L503.9 278.3L504.9 276.6L506.0 274.9L507.1 273.2L508.2 271.5L509.3 269.9L510.4 268.2L511.6 266.6L512.7 265.0L513.9 263.5L515.2 261.9L516.5 260.4L517.8 259.0L519.1 257.5L520.5 256.1L521.9 254.8L523.4 253.4L524.8 252.1L526.3 250.9L527.9 249.6L529.4 248.4L531.0 247.2L532.6 246.1L534.3 245.0L535.9 243.9L537.6 242.8L539.3 241.8L541.0 240.7L542.8 239.8L544.5 238.8L546.3 237.9L548.1 236.9L549.9 236.1L551.7 235.2L553.5 234.3L555.4 233.5L557.2 232.7L559.0 231.9L560.9 231.1L562.8 230.3L564.6 229.6L566.5 228.8L568.4 228.1L570.2 227.4L572.1 226.6L574.0 225.9L575.9 225.2L577.7 224.6L579.6 223.9L581.5 223.2L583.4 222.6L585.3 221.9L587.2 221.3L589.1 220.7L591.0 220.0L592.9 219.4L594.8 218.8L596.7 218.2L598.6 217.6L600.5 217.0L602.5 216.5L604.4 215.9L606.3 215.3L608.2 214.7L610.1 214.2L612.0 213.6L614.0 213.1L615.9 212.5L617.8 212.0L619.7 211.4L621.6 210.9L623.6 210.3L625.5 209.8L627.4 209.2L629.3 208.7L631.2 208.1L633.2 207.6L635.1 207.0L637.0 206.5L638.8 205.2L640.2 201.0L641.8 198.8L644.0 198.0L646.0 197.6L647.9 197.2L649.9 196.8L651.9 196.4L653.8 195.9L655.8 195.5L657.8 195.1L659.7 194.7L661.7 194.3L663.7 193.9L665.6 193.5L667.6 193.1L669.6 192.6L671.5 192.2L673.5 191.8L675.4 191.4L677.4 191.0L679.4 190.6L681.3 190.2L683.3 189.7L685.2 189.3L687.2 188.9L689.2 188.5L691.1 188.1L693.1 187.7L695.0 187.3L697.0 186.8L699.0 186.4L700.9 186.0L702.9 185.6L704.8 185.2L706.8 184.8L708.8 184.4L710.7 184.0L712.7 183.6L714.6 183.1L716.6 182.7L718.6 182.3L720.5 181.9L722.5 181.5L724.4 181.1L726.4 180.7L728.4 180.3L730.3 179.9L732.3 179.5L734.2 179.1L736.2 178.7L738.1 178.3L740.1 177.9L742.1 177.5L744.0 177.1L746.0 176.7L747.9 176.3L749.9 175.9L751.9 175.5L753.8 175.1L755.8 174.7L757.8 174.3L759.7 173.9L761.7 173.6L763.6 173.2L765.6 172.8L767.6 172.4L769.5 172.0L771.5 171.6L773.5 171.3L775.4 170.9L777.4 170.5L779.4 170.1L781.3 169.8L783.3 169.4L785.3 169.0L787.2 168.7L789.2 168.3L791.2 167.9L793.1 167.6L795.1 167.2L797.1 166.9L799.0 166.5L801.0 166.1L803.0 165.8L805.0 165.4L806.9 165.1L808.9 164.7L810.9 164.4L812.9 164.1L814.8 163.7L816.8 163.4L818.8 163.1L820.8 162.7L822.7 162.4L824.7 162.1L826.7 161.7L828.7 161.4L830.7 161.1L832.7 160.8L834.6 160.5L836.6 160.2L838.6 159.8L840.6 159.5L842.6 159.2L844.6 158.9L846.6 158.6L848.5 158.3L850.5 158.1L852.5 157.8L854.5 157.5L856.5 157.2L858.5 156.9L860.5 156.7L862.5 156.4L864.5 156.1L866.5 155.9L868.5 155.6L870.5 155.4L872.4 155.1L874.4 154.9L876.4 154.6L878.4 154.4L880.4 154.2L882.4 153.9L884.4 153.7L886.4 153.5L888.4 153.3L890.4 153.1L892.4 152.9L894.4 152.7L896.4 152.5L898.4 152.3L900.4 152.1L902.4 151.9L904.4 151.8L906.4 151.6L908.4 151.5L910.4 151.3L912.4 151.2L914.4 151.0L916.4 150.9L918.4 150.8L920.4 150.6L922.4 150.5L924.4 150.4L926.4 150.3L928.4 150.2L930.4 150.1L932.4 150.0L934.4 150.0L936.4 149.9L938.4 149.8L940.4 149.8L942.4 149.7L944.5 149.7L946.5 149.6L948.5 149.6L950.5 149.6L952.5 149.6L954.5 149.6L956.5 149.6L958.5 149.6L960.5 149.6L962.5 149.6L964.5 149.7L966.5 149.7L968.5 149.7L970.5 149.8L972.5 149.9L974.5 149.9L976.5 150.0L978.5 150.1L980.5 150.2L982.5 150.3L984.5 150.4L986.4 150.5L988.4 150.6L990.4 150.8L992.4 150.9L994.4 151.1L996.4 151.2L998.4 151.4L1000.4 151.5L1002.4 151.7L1004.4 151.9L1006.4 152.1L1008.4 152.3L1010.4 152.5L1012.4 152.7L1014.3 152.9L1016.3 153.1L1018.3 153.4L1020.3 153.6L1022.3 153.9L1024.3 154.1L1026.3 154.4L1028.2 154.6L1030.2 154.9L1032.2 155.2L1034.2 155.5L1036.2 155.8L1038.1 156.1L1040.1 156.4L1042.1 156.7L1044.1 157.0L1046.0 157.3L1048.0 157.7L1050.0 158.0L1052.0 158.4L1053.9 158.7L1055.9 159.1L1057.9 159.4L1059.8 159.8L1061.8 160.2L1063.8 160.6L1065.7 161.0L1067.7 161.4L1069.6 161.8L1071.6 162.2L1073.6 162.6L1075.5 163.0L1077.5 163.4L1079.4 163.9L1081.4 164.3L1083.3 164.7L1085.3 165.2L1087.3 165.7L1089.2 166.1L1091.2 166.6L1093.1 167.1L1095.1 167.5L1097.0 168.0L1098.9 168.5L1100.9 169.0L1102.8 169.5L1104.8 170.0L1106.7 170.5L1108.7 171.1L1110.6 171.6L1112.5 172.1L1114.5 172.6L1116.4 173.2L1118.4 173.7L1120.3 174.3L1122.2 174.8L1124.2 175.4L1126.1 176.0L1128.0 176.5L1130.0 177.1L1131.9 177.7L1133.8 178.3L1135.8 178.9L1137.7 179.5L1139.6 180.1L1141.5 180.7L1143.4 181.3L1145.3 182.0L1147.2 182.6L1149.1 183.3L1151.0 184.0L1152.9 184.7L1154.8 185.4L1156.6 186.2L1158.5 186.9L1160.3 187.7L1162.2 188.5L1164.0 189.4L1165.8 190.2L1167.6 191.1L1169.4 192.0L1171.1 192.9L1172.9 193.9L1174.6 194.9L1176.3 195.9L1178.0 197.0L1179.7 198.0L1181.4 199.2L1183.0 200.3L1184.6 201.5L1186.2 202.8L1187.7 204.1L1189.2 205.4L1190.6 206.8L1191.9 208.3L1193.1 209.8L1194.3 211.4L1195.3 213.0L1196.3 214.8L1197.1 216.6L1197.8 218.5" fill="none" stroke="#ff0000" stroke-width="4.0" stroke-linejoin="round" stroke-linecap="round"/>
<path d="M229.2 801.1L262.0 801.1L263.9 800.5L265.7 799.9L267.5 799.1L269.2 798.2L270.9 797.3L272.5 796.3L274.1 795.2L275.7 794.0L277.2 792.8L278.7 791.5L280.2 790.2L281.6 788.8L283.0 787.4L284.4 786.0L285.8 784.5L287.1 783.0L288.5 781.5L289.8 780.0L291.1 778.4L292.4 776.9L293.7 775.3L294.9 773.7L296.2 772.2L297.4 770.6L298.7 769.0L299.9 767.4L301.1 765.8L302.3 764.2L303.4 762.5L304.6 760.9L305.8 759.3L306.9 757.6L308.0 756.0L309.2 754.3L310.3 752.6L311.4 751.0L312.5 749.3L313.6 747.6L314.6 745.9L315.7 744.2L316.8 742.5L317.8 740.8L318.8 739.1L319.9 737.4L320.9 735.6L321.9 733.9L322.9 732.2L323.9 730.4L324.9 728.7L325.8 726.9L326.8 725.2L327.8 723.4L328.7 721.7L329.7 719.9L330.6 718.1L331.6 716.3L332.5 714.6L333.4 712.8L334.3 711.0L335.2 709.2L336.1 707.4L337.0 705.6L337.9 703.8L338.8 702.0L339.7 700.2L340.6 698.4L341.4 696.6L342.3 694.8L343.2 693.0L344.0 691.1L344.9 689.3L345.7 687.5L346.6 685.7L347.4 683.9L348.3 682.0L349.1 680.2L350.0 678.4L350.8 676.6L351.6 674.7L352.5 672.9L353.3 671.1L354.1 669.2L354.9 667.4L355.8 665.6L356.6 663.8L357.4 661.9L358.2 660.1L359.0 658.3L359.8 656.4L360.6 654.6L361.4 652.8L362.3 650.9L363.1 649.1L363.9 647.3L364.7 645.4L365.5 643.6L366.3 641.8L367.1 639.9L367.8 638.1L368.6 636.2L369.4 634.4L370.2 632.6L371.0 630.7L371.8 628.9L372.6 627.1L373.4 625.2L374.1 623.4L374.9 621.5L375.7 619.7L376.5 617.8L377.2 616.0L378.0 614.2L378.8 612.3L379.6 610.5L380.3 608.6L381.1 606.8L381.9 604.9L382.6 603.1L383.4 601.2L384.2 599.4L384.9 597.5L385.7 595.7L386.5 593.9L387.2 592.0L388.0 590.2L388.7 588.3L389.5 586.5L390.3 584.6L391.0 582.7L391.8 580.9L392.5 579.0L393.3 577.2L394.0 575.3L394.8 573.5L395.5 571.6L396.3 569.8L397.0 567.9L397.8 566.1L398.5 564.2L399.3 562.4L400.0 560.5L400.8 558.6L401.5 556.8L402.3 554.9L403.0 553.1L403.8 551.2L404.5 549.4L405.3 547.5L406.0 545.6L406.8 543.8L407.5 541.9L408.3 540.1L409.0 538.2L409.8 536.3L410.5 534.5L411.2 532.6L412.0 530.8L412.7 528.9L413.5 527.0L414.2 525.2L415.0 523.3L415.7 521.4L416.4 519.6L417.2 517.7L417.9 515.9L418.7 514.0L419.4 512.1L420.1 510.3L420.9 508.4L421.6 506.5L422.4 504.7L423.1 502.8L423.9 501.0L424.6 499.1L425.3 497.2L426.1 495.4L426.8 493.5L427.6 491.6L428.3 489.8L429.0 487.9L429.8 486.1L430.5 484.2L431.2 482.3L432.0 480.5L432.7 478.6L433.5 476.7L434.2 474.9L434.9 473.0L435.7 471.2L436.4 469.3L437.2 467.4L437.9 465.6L438.6 463.7L439.4 461.9L440.1 460.0L440.9 458.1L441.6 456.3L442.3 454.4L443.1 452.6L443.8 450.7L444.6 448.8L445.3 447.0L446.0 445.1L446.8 443.3L447.5 441.4L448.3 439.6L449.0 437.7L449.7 435.8L450.5 434.0L451.2 432.1L452.0 430.3L452.7 428.4L453.5 426.6L454.2 424.7L454.9 422.9L455.7 421.0L456.4 419.1L457.2 417.3L457.9 415.4L458.7 413.6L459.4 411.7L460.1 409.9L460.9 408.0L461.6 406.2L462.4 404.3L463.1 402.4L463.9 400.6L464.6 398.7L465.4 396.9L466.1 395.0L466.9 393.2L467.6 391.3L468.4 389.5L469.1 387.6L469.9 385.7L470.6 383.9L471.4 382.0L472.1 380.2L472.9 378.3L473.6 376.5L474.4 374.6L475.2 372.8L475.9 370.9L476.7 369.0L477.4 367.2L478.2 365.3L478.9 363.5L479.7 361.6L480.5 359.8L481.2 357.9L482.0 356.0L482.7 354.2L483.5 352.3L484.3 350.5L485.0 348.6L485.8 346.8L486.6 344.9L487.3 343.0L488.1 341.2L488.9 339.3L489.6 337.5L490.4 335.6L491.2 333.7L491.9 331.9L492.7 330.0L493.5 328.2L494.3 326.3L495.1 324.5L495.8 322.6L496.6 320.8L497.4 318.9L498.2 317.1L499.0 315.2L499.8 313.4L500.7 311.5L501.5 309.7L502.3 307.9L503.1 306.0L504.0 304.2L504.8 302.4L505.7 300.6L506.5 298.8L507.4 297.0L508.3 295.2L509.2 293.4L510.1 291.6L511.0 289.8L511.9 288.0L512.8 286.2L513.7 284.5L514.7 282.7L515.6 280.9L516.6 279.2L517.6 277.5L518.6 275.7L519.6 274.0L520.6 272.3L521.6 270.6L522.7 268.9L523.7 267.2L524.8 265.5L525.9 263.8L527.0 262.2L528.1 260.5L529.2 258.9L530.4 257.2L531.5 255.6L532.7 254.0L533.9 252.4L535.1 250.8L536.4 249.3L537.6 247.7L538.9 246.2L540.2 244.7L541.5 243.2L542.9 241.8L544.3 240.3L545.7 238.9L547.1 237.5L548.6 236.2L550.0 234.9L551.6 233.6L553.1 232.3L554.7 231.1L556.3 229.9L557.9 228.7L559.5 227.5L561.2 226.4L562.8 225.3L564.5 224.2L566.2 223.1L568.0 222.1L569.7 221.1L571.4 220.1L573.2 219.1L575.0 218.1L576.8 217.2L578.6 216.3L580.4 215.4L582.2 214.5L584.1 213.6L585.9 212.8L587.7 212.0L589.6 211.2L591.5 210.4L593.3 209.6L595.2 208.9L597.1 208.1L599.0 207.4L600.9 206.7L602.8 206.0L604.7 205.3L606.6 204.7L608.5 204.0L610.4 203.4L612.3 202.8L614.2 202.2L616.1 201.6L618.0 201.0L619.8 200.4L621.7 199.9L623.6 199.3L625.5 198.8L627.3 197.5L628.8 192.5L630.5 189.0L632.8 187.8L634.7 187.4L636.7 187.0L638.6 186.6L640.6 186.1L642.5 185.7L644.5 185.3L646.4 184.8L648.4 184.4L650.3 183.9L652.3 183.5L654.2 183.0L656.2 182.6L658.1 182.1L660.1 181.7L662.0 181.2L663.9 180.7L665.9 180.3L667.8 179.8L669.8 179.3L671.7 178.8L673.7 178.4L675.6 177.9L677.6 177.4L679.5 176.9L681.4 176.4L683.4 176.0L685.3 175.5L687.3 175.0L689.2 174.5L691.2 174.0L693.1 173.5L695.1 173.1L697.0 172.6L698.9 172.1L700.9 171.6L702.8 171.1L704.8 170.6L706.7 170.1L708.7 169.7L710.6 169.2L712.6 168.7L714.5 168.2L716.5 167.7L718.4 167.3L720.4 166.8L722.3 166.3L724.3 165.8L726.2 165.4L728.2 164.9L730.1 164.4L732.1 164.0L734.0 163.5L736.0 163.1L737.9 162.6L739.9 162.2L741.8 161.7L743.8 161.3L745.7 160.9L747.7 160.4L749.6 160.0L751.6 159.6L753.5 159.2L755.5 158.7L757.5 158.3L759.4 157.9L761.4 157.5L763.3 157.1L765.3 156.7L767.3 156.3L769.2 156.0L771.2 155.6L773.1 155.2L775.1 154.8L777.1 154.4L779.0 154.1L781.0 153.7L783.0 153.4L784.9 153.0L786.9 152.6L788.9 152.3L790.8 151.9L792.8 151.6L794.8 151.3L796.7 150.9L798.7 150.6L800.7 150.3L802.6 149.9L804.6 149.6L806.6 149.3L808.6 149.0L810.5 148.7L812.5 148.4L814.5 148.0L816.5 147.7L818.4 147.4L820.4 147.1L822.4 146.8L824.4 146.5L826.3 146.3L828.3 146.0L830.3 145.7L832.3 145.4L834.2 145.1L836.2 144.8L838.2 144.6L840.2 144.3L842.2 144.0L844.1 143.7L846.1 143.5L848.1 143.2L850.1 142.9L852.1 142.7L854.0 142.4L856.0 142.2L858.0 141.9L860.0 141.7L862.0 141.4L864.0 141.2L865.9 140.9L867.9 140.7L869.9 140.4L871.9 140.2L873.9 139.9L875.9 139.7L877.9 139.5L879.8 139.2L881.8 139.0L883.8 138.7L885.8 138.5L887.8 138.3L889.8 138.1L891.8 137.8L893.8 137.6L895.7 137.4L897.7 137.1L899.7 136.9L901.7 136.7L903.7 136.5L905.7 136.2L907.7 136.0L909.7 135.8L911.7 135.6L913.7 135.4L915.7 135.2L917.6 134.9L919.6 134.7L921.6 134.5L923.6 134.3L925.6 134.1L927.6 133.9L929.6 133.7L931.6 133.5L933.6 133.3L935.6 133.1L937.6 132.9L939.6 132.7L941.6 132.5L943.6 132.3L945.6 132.1L947.5 131.9L949.5 131.7L951.5 131.5L953.5 131.3L955.5 131.1L957.5 130.9L959.5 130.7L961.5 130.5L963.5 130.4L965.5 130.2L967.5 130.0L969.5 129.8L971.5 129.6L973.5 129.5L975.5 129.3L977.5 129.1L979.5 129.0L981.5 128.8L983.5 128.6L985.5 128.5L987.5 128.3L989.5 128.1L991.5 128.0L993.5 127.8L995.5 127.7L997.5 127.5L999.5 127.4L1001.5 127.2L1003.5 127.1L1005.5 126.9L1007.5 126.8L1009.5 126.7L1011.5 126.5L1013.5 126.4L1015.5 126.3L1017.5 126.1L1019.5 126.0L1021.5 125.9L1023.5 125.8L1025.5 125.6L1027.5 125.5L1029.5 125.4L1031.5 125.3L1033.5 125.2L1035.5 125.1L1037.5 125.0L1039.5 124.9L1041.5 124.8L1043.5 124.7L1045.5 124.6L1047.5 124.5L1049.5 124.4L1051.5 124.3L1053.5 124.2L1055.5 124.2L1057.5 124.1L1059.5 124.0L1061.5 123.9L1063.5 123.9L1065.5 123.8L1067.5 123.7L1069.5 123.7L1071.5 123.6L1073.5 123.6L1075.5 123.5L1077.5 123.5L1079.5 123.4L1081.5 123.4L1083.5 123.3L1085.5 123.3L1087.5 123.3L1089.5 123.2L1091.5 123.2L1093.5 123.2L1095.4 123.1L1097.4 123.1L1099.4 123.1L1101.4 123.1L1103.4 123.1L1105.4 123.1L1107.4 123.1L1109.4 123.1L1111.4 123.1L1113.4 123.1L1115.4 123.1L1117.4 123.1L1119.4 123.1L1121.4 123.2L1123.4 123.2L1125.4 123.2L1127.4 123.3L1129.4 123.3L1131.4 123.3L1133.4 123.4L1135.4 123.4L1137.4 123.5L1139.4 123.5L1141.4 123.6L1143.4 123.6L1145.4 123.7L1147.4 123.8L1149.4 123.9L1151.4 123.9L1153.4 124.0L1155.4 124.1L1157.4 124.2L1159.4 124.3L1161.4 124.4L1163.3 124.5L1165.3 124.6L1167.3 124.7L1169.3 124.8L1171.3 124.9L1173.3 125.0L1175.3 125.2L1177.3 125.3L1179.3 125.4L1181.3 125.6L1183.3 125.7L1185.3 125.9L1187.3 126.0L1189.3 126.2L1191.2 126.3L1193.2 126.5L1195.2 126.6L1197.2 126.8L1199.2 127.0L1201.2 127.2L1203.2 127.4L1205.2 127.5L1207.2 127.7L1209.2 127.9L1211.1 128.1L1213.1 128.4L1215.1 128.6L1217.1 128.8L1219.1 129.0L1221.1 129.2L1223.1 129.5L1225.0 129.7L1227.0 129.9L1229.0 130.2L1231.0 130.4L1233.0 130.7L1235.0 130.9L1237.0 131.2L1238.9 131.4L1240.9 131.7L1242.9 132.0L1244.9 132.3L1246.9 132.5L1248.8 132.8L1250.8 133.1L1252.8 133.4L1254.8 133.7L1256.8 134.0L1258.7 134.3L1260.7 134.6L1262.7 134.9L1264.7 135.3L1266.6 135.6L1268.6 135.9L1270.6 136.3L1272.6 136.6L1274.5 136.9L1276.5 137.3L1278.5 137.6L1280.5 138.0L1282.4 138.3L1284.4 138.7L1286.4 139.1L1288.3 139.4L1290.3 139.8L1292.3 140.2L1294.2 140.6L1296.2 141.0L1298.2 141.4L1300.1 141.8L1302.1 142.2L1304.1 142.6L1306.0 143.0L1308.0 143.4L1309.9 143.8L1311.9 144.2L1313.9 144.7L1315.8 145.1L1317.8 145.5L1319.7 146.0L1321.7 146.4L1323.6 146.9L1325.6 147.3L1327.5 147.8L1329.5 148.2L1331.4 148.7L1333.4 149.2L1335.3 149.7L1337.3 150.1L1339.2 150.6L1341.2 151.1L1343.1 151.6L1345.1 152.1L1347.0 152.6L1349.0 153.1L1350.9 153.6L1352.8 154.1L1354.8 154.6L1356.7 155.2L1358.7 155.7L1360.6 156.2L1362.5 156.7L1364.5 157.3L1366.4 157.8L1368.3 158.4L1370.3 158.9L1372.2 159.5L1374.1 160.0L1376.0 160.6L1378.0 161.2L1379.9 161.7L1381.8 162.3L1383.7 162.9L1385.7 163.5L1387.6 164.1L1389.5 164.6L1391.4 165.2L1393.3 165.8L1395.2 166.4L1397.2 167.1L1399.1 167.7L1401.0 168.3L1402.9 168.9L1404.8 169.5L1406.7 170.2L1408.6 170.8L1410.5 171.4L1412.4 172.1L1414.3 172.7L1416.2 173.4L1418.1 174.0L1420.0 174.7L1421.9 175.3L1423.8 176.0L1425.7 176.7L1427.6 177.3L1429.5 178.0L1431.4 178.7L1433.3 179.4L1435.1 180.1L1437.0 180.8L1438.9 181.5L1440.8 182.2L1442.7 182.9L1444.6 183.6L1446.4 184.3L1448.3 185.0L1450.2 185.7L1452.1 186.5L1453.9 187.2L1455.8 187.9L1457.7 188.7L1459.5 189.4L1461.4 190.2L1463.3 190.9L1465.1 191.7L1466.9 192.5L1468.8 193.3L1470.6 194.1L1472.3 194.9L1474.1 195.8L1475.8 196.8L1477.5 197.7L1479.1 198.7L1480.7 199.8L1482.2 200.9L1483.7 202.1L1485.1 203.3L1486.5 204.6L1487.8 205.9L1489.0 207.4L1490.2 208.9L1491.2 210.5L1492.2 212.2L1493.1 213.9L1493.9 215.8L1494.7 217.8L1495.3 219.8L1495.8 222.0L1496.2 232.0L1496.4 246.6" fill="none" stroke="#ff0066" stroke-width="4.0" stroke-linejoin="round" stroke-linecap="round"/>
<path d="M229.2 801.1L231.1 800.2L232.9 799.3L234.8 798.3L236.6 797.3L238.4 796.4L240.2 795.4L241.9 794.3L243.7 793.3L245.4 792.3L247.1 791.2L248.8 790.1L250.5 789.0L252.2 787.9L253.8 786.8L255.4 785.6L257.1 784.5L258.7 783.3L260.3 782.1L261.8 780.9L263.4 779.6L264.9 778.4L266.5 777.2L268.0 775.9L269.5 774.6L270.9 773.3L272.4 772.0L273.9 770.7L275.3 769.3L276.7 768.0L278.2 766.6L279.6 765.3L280.9 763.9L282.3 762.5L283.7 761.1L285.0 759.6L286.4 758.2L287.7 756.8L289.0 755.3L290.3 753.8L291.6 752.3L292.9 750.8L294.1 749.3L295.4 747.8L296.6 746.3L297.9 744.8L299.1 743.2L300.3 741.7L301.5 740.1L302.7 738.5L303.9 736.9L305.0 735.3L306.2 733.7L307.3 732.1L308.5 730.5L309.6 728.9L310.7 727.2L311.8 725.6L312.9 723.9L314.0 722.3L315.1 720.6L316.2 718.9L317.2 717.2L318.3 715.5L319.3 713.8L320.4 712.1L321.4 710.4L322.4 708.7L323.5 707.0L324.5 705.2L325.5 703.5L326.5 701.7L327.5 700.0L328.4 698.2L329.4 696.5L330.4 694.7L331.3 692.9L332.3 691.2L333.3 689.4L334.2 687.6L335.1 685.8L336.1 684.0L337.0 682.2L337.9 680.4L338.8 678.6L339.8 676.8L340.7 675.0L341.6 673.2L342.5 671.4L343.4 669.5L344.3 667.7L345.1 665.9L346.0 664.1L346.9 662.2L347.8 660.4L348.7 658.6L349.5 656.7L350.4 654.9L351.3 653.1L352.1 651.2L353.0 649.4L353.9 647.5L354.7 645.7L355.6 643.9L356.4 642.0L357.3 640.2L358.1 638.3L359.0 636.5L359.8 634.7L360.7 632.8L361.5 631.0L362.3 629.2L363.2 627.3L364.0 625.5L364.9 623.6L365.7 621.8L366.5 620.0L367.4 618.1L368.2 616.3L369.0 614.5L369.8 612.6L370.7 610.8L371.5 609.0L372.3 607.1L373.1 605.3L374.0 603.5L374.8 601.6L375.6 599.8L376.4 598.0L377.2 596.1L378.1 594.3L378.9 592.5L379.7 590.6L380.5 588.8L381.3 587.0L382.1 585.1L382.9 583.3L383.7 581.4L384.5 579.6L385.3 577.8L386.1 575.9L386.9 574.1L387.7 572.3L388.5 570.4L389.3 568.6L390.1 566.8L390.9 564.9L391.7 563.1L392.5 561.3L393.3 559.4L394.1 557.6L394.9 555.8L395.7 553.9L396.5 552.1L397.3 550.3L398.1 548.4L398.8 546.6L399.6 544.8L400.4 542.9L401.2 541.1L402.0 539.3L402.8 537.4L403.5 535.6L404.3 533.8L405.1 531.9L405.9 530.1L406.6 528.2L407.4 526.4L408.2 524.6L409.0 522.7L409.7 520.9L410.5 519.1L411.3 517.2L412.0 515.4L412.8 513.5L413.6 511.7L414.3 509.9L415.1 508.0L415.9 506.2L416.6 504.3L417.4 502.5L418.2 500.7L418.9 498.8L419.7 497.0L420.4 495.1L421.2 493.3L422.0 491.5L422.7 489.6L423.5 487.8L424.2 485.9L425.0 484.1L425.7 482.2L426.5 480.4L427.2 478.5L428.0 476.7L428.8 474.8L429.5 473.0L430.3 471.1L431.0 469.3L431.8 467.4L432.5 465.6L433.2 463.7L434.0 461.9L434.7 460.0L435.5 458.2L436.2 456.3L437.0 454.5L437.7 452.6L438.5 450.8L439.2 448.9L439.9 447.1L440.7 445.2L441.4 443.3L442.2 441.5L442.9 439.6L443.7 437.8L444.4 435.9L445.1 434.0L445.9 432.2L446.6 430.3L447.3 428.5L448.1 426.6L448.8 424.7L449.6 422.9L450.3 421.0L451.0 419.1L451.8 417.3L452.5 415.4L453.2 413.5L454.0 411.7L454.7 409.8L455.5 407.9L456.2 406.1L456.9 404.2L457.7 402.3L458.4 400.5L459.2 398.6L459.9 396.7L460.7 394.9L461.4 393.0L462.2 391.1L462.9 389.3L463.7 387.4L464.4 385.5L465.2 383.7L465.9 381.8L466.7 379.9L467.4 378.1L468.2 376.2L468.9 374.4L469.7 372.5L470.5 370.6L471.2 368.8L472.0 366.9L472.8 365.0L473.5 363.2L474.3 361.3L475.1 359.5L475.9 357.6L476.7 355.8L477.4 353.9L478.2 352.1L479.0 350.2L479.8 348.3L480.6 346.5L481.4 344.6L482.2 342.8L483.0 341.0L483.8 339.1L484.6 337.3L485.4 335.4L486.2 333.6L487.0 331.7L487.9 329.9L488.7 328.1L489.5 326.2L490.3 324.4L491.2 322.6L492.0 320.7L492.9 318.9L493.7 317.1L494.5 315.2L495.4 313.4L496.3 311.6L497.1 309.8L498.0 307.9L498.9 306.1L499.7 304.3L500.6 302.5L501.5 300.7L502.4 298.9L503.3 297.1L504.2 295.3L505.1 293.5L506.0 291.7L506.9 289.9L507.8 288.1L508.7 286.3L509.7 284.5L510.6 282.8L511.6 281.0L512.6 279.3L513.6 277.5L514.6 275.8L515.6 274.1L516.6 272.4L517.7 270.7L518.7 269.0L519.8 267.3L520.9 265.7L522.0 264.1L523.2 262.4L524.3 260.8L525.5 259.3L526.7 257.7L527.9 256.1L529.2 254.6L530.4 253.1L531.7 251.6L533.0 250.1L534.4 248.7L535.7 247.3L537.1 245.9L538.5 244.5L540.0 243.1L541.4 241.8L542.9 240.5L544.4 239.2L545.9 237.9L547.5 236.6L549.0 235.4L550.6 234.2L552.2 233.0L553.8 231.8L555.5 230.7L557.1 229.5L558.8 228.4L560.5 227.3L562.2 226.3L563.9 225.2L565.6 224.2L567.4 223.2L569.1 222.2L570.9 221.2L572.7 220.3L574.4 219.4L576.2 218.5L578.1 217.6L579.9 216.7L581.7 215.9L583.6 215.1L585.4 214.2L587.3 213.5L589.1 212.7L591.0 211.9L592.9 211.2L594.8 210.5L596.6 209.8L598.5 209.1L600.5 208.4L602.4 207.7L604.3 207.1L606.2 206.5L608.1 205.8L610.0 205.2L612.0 204.6L613.9 204.0L615.8 203.4L617.8 202.9L619.7 202.3L621.7 201.8L623.6 201.2L625.6 200.7L627.5 200.1L629.5 199.6L631.4 199.1L633.4 198.5L635.3 198.0L637.2 197.5L639.2 197.0L641.1 196.5L643.1 196.0L645.0 195.5L647.0 195.0L648.9 194.5L650.8 194.0L652.8 193.5L654.7 193.0L656.6 192.4L658.5 191.9L660.4 191.4L662.3 190.9L664.2 190.4L666.1 189.8L668.0 189.3L670.0 187.5L671.5 182.0L673.0 178.5L675.9 176.6L677.9 176.2L679.8 175.9L681.8 175.5L683.8 175.2L685.8 174.8L687.7 174.5L689.7 174.1L691.7 173.7L693.6 173.4L695.6 173.0L697.6 172.7L699.5 172.3L701.5 171.9L703.5 171.6L705.5 171.2L707.4 170.8L709.4 170.5L711.4 170.1L713.3 169.7L715.3 169.4L717.3 169.0L719.2 168.6L721.2 168.3L723.2 167.9L725.1 167.5L727.1 167.2L729.1 166.8L731.1 166.4L733.0 166.1L735.0 165.7L737.0 165.3L738.9 165.0L740.9 164.6L742.9 164.2L744.8 163.9L746.8 163.5L748.8 163.1L750.8 162.8L752.7 162.4L754.7 162.1L756.7 161.7L758.6 161.3L760.6 161.0L762.6 160.6L764.5 160.3L766.5 159.9L768.5 159.6L770.5 159.2L772.4 158.9L774.4 158.5L776.4 158.2L778.3 157.8L780.3 157.5L782.3 157.1L784.3 156.8L786.2 156.4L788.2 156.1L790.2 155.8L792.1 155.4L794.1 155.1L796.1 154.8L798.1 154.4L800.0 154.1L802.0 153.8L804.0 153.5L805.9 153.1L807.9 152.8L809.9 152.5L811.9 152.2L813.8 151.9L815.8 151.6L817.8 151.2L819.8 150.9L821.7 150.6L823.7 150.3L825.7 150.0L827.7 149.7L829.6 149.5L831.6 149.2L833.6 148.9L835.6 148.6L837.6 148.3L839.5 148.0L841.5 147.7L843.5 147.5L845.5 147.2L847.4 146.9L849.4 146.7L851.4 146.4L853.4 146.1L855.4 145.9L857.3 145.6L859.3 145.4L861.3 145.1L863.3 144.9L865.3 144.6L867.2 144.4L869.2 144.1L871.2 143.9L873.2 143.6L875.2 143.4L877.1 143.2L879.1 142.9L881.1 142.7L883.1 142.5L885.1 142.2L887.1 142.0L889.0 141.8L891.0 141.6L893.0 141.3L895.0 141.1L897.0 140.9L899.0 140.7L901.0 140.5L902.9 140.3L904.9 140.1L906.9 139.9L908.9 139.7L910.9 139.5L912.9 139.3L914.9 139.1L916.8 138.9L918.8 138.7L920.8 138.5L922.8 138.3L924.8 138.1L926.8 137.9L928.8 137.7L930.8 137.5L932.8 137.3L934.7 137.1L936.7 137.0L938.7 136.8L940.7 136.6L942.7 136.4L944.7 136.2L946.7 136.1L948.7 135.9L950.7 135.7L952.7 135.5L954.7 135.4L956.6 135.2L958.6 135.0L960.6 134.9L962.6 134.7L964.6 134.5L966.6 134.4L968.6 134.2L970.6 134.0L972.6 133.9L974.6 133.7L976.6 133.6L978.6 133.4L980.6 133.3L982.6 133.1L984.6 132.9L986.6 132.8L988.6 132.6L990.6 132.5L992.6 132.3L994.6 132.2L996.6 132.0L998.6 131.9L1000.5 131.7L1002.5 131.6L1004.5 131.4L1006.5 131.3L1008.5 131.1L1010.5 131.0L1012.5 130.9L1014.5 130.7L1016.5 130.6L1018.5 130.4L1020.5 130.3L1022.6 130.1L1024.6 130.0L1026.6 129.9L1028.6 129.7L1030.6 129.6L1032.6 129.5L1034.6 129.3L1036.6 129.2L1038.6 129.1L1040.6 129.0L1042.6 128.8L1044.6 128.7L1046.6 128.6L1048.6 128.5L1050.6 128.3L1052.6 128.2L1054.6 128.1L1056.6 128.0L1058.6 127.9L1060.6 127.8L1062.6 127.7L1064.6 127.6L1066.6 127.4L1068.6 127.3L1070.6 127.2L1072.6 127.1L1074.6 127.0L1076.6 126.9L1078.6 126.9L1080.7 126.8L1082.7 126.7L1084.7 126.6L1086.7 126.5L1088.7 126.4L1090.7 126.3L1092.7 126.3L1094.7 126.2L1096.7 126.1L1098.7 126.0L1100.7 126.0L1102.7 125.9L1104.7 125.8L1106.7 125.8L1108.7 125.7L1110.7 125.7L1112.7 125.6L1114.7 125.6L1116.7 125.5L1118.7 125.5L1120.7 125.4L1122.7 125.4L1124.7 125.4L1126.8 125.3L1128.8 125.3L1130.8 125.3L1132.8 125.3L1134.8 125.2L1136.8 125.2L1138.8 125.2L1140.8 125.2L1142.8 125.2L1144.8 125.2L1146.8 125.2L1148.8 125.2L1150.8 125.2L1152.8 125.2L1154.8 125.2L1156.8 125.2L1158.8 125.3L1160.8 125.3L1162.8 125.3L1164.8 125.4L1166.8 125.4L1168.8 125.4L1170.8 125.5L1172.8 125.5L1174.8 125.6L1176.8 125.6L1178.8 125.7L1180.8 125.7L1182.8 125.8L1184.8 125.9L1186.8 126.0L1188.8 126.0L1190.8 126.1L1192.8 126.2L1194.8 126.3L1196.8 126.4L1198.8 126.5L1200.7 126.6L1202.7 126.7L1204.7 126.8L1206.7 126.9L1208.7 127.1L1210.7 127.2L1212.7 127.3L1214.7 127.4L1216.7 127.6L1218.7 127.7L1220.7 127.9L1222.7 128.0L1224.7 128.2L1226.6 128.3L1228.6 128.5L1230.6 128.7L1232.6 128.8L1234.6 129.0L1236.6 129.2L1238.6 129.4L1240.6 129.6L1242.6 129.8L1244.5 130.0L1246.5 130.2L1248.5 130.4L1250.5 130.6L1252.5 130.8L1254.5 131.0L1256.5 131.2L1258.4 131.4L1260.4 131.7L1262.4 131.9L1264.4 132.1L1266.4 132.4L1268.4 132.6L1270.3 132.9L1272.3 133.1L1274.3 133.4L1276.3 133.6L1278.3 133.9L1280.2 134.2L1282.2 134.4L1284.2 134.7L1286.2 135.0L1288.1 135.3L1290.1 135.5L1292.1 135.8L1294.1 136.1L1296.1 136.4L1298.0 136.7L1300.0 137.0L1302.0 137.3L1304.0 137.6L1305.9 137.9L1307.9 138.3L1309.9 138.6L1311.8 138.9L1313.8 139.2L1315.8 139.6L1317.8 139.9L1319.7 140.2L1321.7 140.6L1323.7 140.9L1325.6 141.2L1327.6 141.6L1329.6 141.9L1331.5 142.3L1333.5 142.7L1335.5 143.0L1337.4 143.4L1339.4 143.8L1341.4 144.1L1343.3 144.5L1345.3 144.9L1347.3 145.3L1349.2 145.6L1351.2 146.0L1353.2 146.4L1355.1 146.8L1357.1 147.2L1359.0 147.6L1361.0 148.0L1363.0 148.4L1364.9 148.8L1366.9 149.2L1368.8 149.7L1370.8 150.1L1372.7 150.5L1374.7 150.9L1376.7 151.3L1378.6 151.8L1380.6 152.2L1382.5 152.6L1384.5 153.1L1386.4 153.5L1388.4 154.0L1390.3 154.4L1392.3 154.8L1394.2 155.3L1396.2 155.8L1398.1 156.2L1400.1 156.7L1402.0 157.1L1404.0 157.6L1405.9 158.1L1407.9 158.5L1409.8 159.0L1411.8 159.5L1413.7 160.0L1415.7 160.4L1417.6 160.9L1419.6 161.4L1421.5 161.9L1423.4 162.4L1425.4 162.9L1427.3 163.4L1429.3 163.9L1431.2 164.4L1433.1 164.9L1435.1 165.4L1437.0 165.9L1439.0 166.4L1440.9 166.9L1442.8 167.4L1444.8 167.9L1446.7 168.4L1448.6 169.0L1450.6 169.5L1452.5 170.0L1454.5 170.5L1456.4 171.1L1458.3 171.6L1460.2 172.1L1462.2 172.7L1464.1 173.2L1466.0 173.7L1468.0 174.3L1469.9 174.8L1471.8 175.4L1473.8 175.9L1475.7 176.5L1477.6 177.0L1479.5 177.6L1481.5 178.1L1483.4 178.7L1485.3 179.2L1487.2 179.8L1489.2 180.4L1491.1 180.9L1493.0 181.5L1494.9 182.1L1496.8 182.6L1498.8 183.2L1500.7 183.8L1502.6 184.4L1504.5 184.9L1506.4 185.5L1508.3 186.1L1510.3 186.7L1512.2 187.3L1514.1 187.9L1516.0 188.4L1517.9 189.0L1519.8 189.6L1521.7 190.2L1523.7 190.8L1525.6 191.4L1527.5 192.0L1529.4 192.6L1531.3 193.2L1533.2 193.8L1535.1 194.4L1537.0 195.0L1538.9 195.6L1540.8 196.2L1542.7 196.8L1544.6 197.5L1546.5 198.1L1548.4 198.7L1550.3 199.3L1552.2 199.9L1554.1 200.5L1556.0 201.1L1557.9 201.8L1559.8 202.4L1561.7 203.0L1563.6 203.6L1565.5 204.3L1567.4 204.9L1569.3 205.5L1571.2 206.1L1573.1 206.8L1575.0 207.4L1581.0 209.8L1587.0 212.8L1593.0 216.4L1598.0 219.8L1602.0 223.0L1605.5 226.5L1609.3 231.5" fill="none" stroke="#7f00ff" stroke-width="4.0" stroke-linejoin="round" stroke-linecap="round"/>
<line x1="1230.4" y1="280.7" x2="1083" y2="118" stroke="#000" stroke-width="2.7"/>
<path d="M1079.4 113.9 L1089.5 119.6 L1084.2 124.4 Z" fill="#000"/>
<line x1="684.1" y1="407.3" x2="537" y2="246.5" stroke="#000" stroke-width="2.7"/>
<path d="M533.3 243.2 L543.2 249 L538 253.6 Z" fill="#000"/>
<line x1="556.8" y1="763" x2="242" y2="763" stroke="#000" stroke-width="3.6"/>
<path d="M233.8 763 L244.5 756.9 L244.5 769.1 Z" fill="#000"/>
<line x1="1209.1" y1="760.9" x2="1592" y2="762.2" stroke="#000" stroke-width="3.6"/>
<path d="M1601 762.2 L1590.5 756.4 L1590.5 768 Z" fill="#000"/>
<line x1="1324.7" y1="489.3" x2="1359.2" y2="489.3" stroke="#00b050" stroke-width="4"/>
<line x1="1324.7" y1="528.9" x2="1359.2" y2="528.9" stroke="#0070c0" stroke-width="4"/>
<line x1="1324.7" y1="570.2" x2="1359.2" y2="570.2" stroke="#ff0000" stroke-width="4"/>
<line x1="1324.7" y1="610.6" x2="1359.2" y2="610.6" stroke="#ff0066" stroke-width="4"/>
<line x1="1324.7" y1="650.6" x2="1359.2" y2="650.6" stroke="#7f00ff" stroke-width="4"/>
<text transform="translate(190.9 816.6) scale(0.99 1.04)" style="font-family:'Liberation Serif','Times New Roman',serif;stroke:#fff;stroke-width:0.5px;font-size:47px" text-anchor="end">0</text>
<text transform="translate(190.9 753.1) scale(0.99 1.04)" style="font-family:'Liberation Serif','Times New Roman',serif;stroke:#fff;stroke-width:0.5px;font-size:47px" text-anchor="end">100</text>
<text transform="translate(190.9 689.5) scale(0.99 1.04)" style="font-family:'Liberation Serif','Times New Roman',serif;stroke:#fff;stroke-width:0.5px;font-size:47px" text-anchor="end">200</text>
<text transform="translate(190.9 626) scale(0.99 1.04)" style="font-family:'Liberation Serif','Times New Roman',serif;stroke:#fff;stroke-width:0.5px;font-size:47px" text-anchor="end">300</text>
<text transform="translate(190.9 562.4) scale(0.99 1.04)" style="font-family:'Liberation Serif','Times New Roman',serif;stroke:#fff;stroke-width:0.5px;font-size:47px" text-anchor="end">400</text>
<text transform="translate(190.9 498.9) scale(0.99 1.04)" style="font-family:'Liberation Serif','Times New Roman',serif;stroke:#fff;stroke-width:0.5px;font-size:47px" text-anchor="end">500</text>
<text transform="translate(190.9 435.4) scale(0.99 1.04)" style="font-family:'Liberation Serif','Times New Roman',serif;stroke:#fff;stroke-width:0.5px;font-size:47px" text-anchor="end">600</text>
<text transform="translate(190.9 371.8) scale(0.99 1.04)" style="font-family:'Liberation Serif','Times New Roman',serif;stroke:#fff;stroke-width:0.5px;font-size:47px" text-anchor="end">700</text>
<text transform="translate(190.9 308.3) scale(0.99 1.04)" style="font-family:'Liberation Serif','Times New Roman',serif;stroke:#fff;stroke-width:0.5px;font-size:47px" text-anchor="end">800</text>
<text transform="translate(190.9 244.7) scale(0.99 1.04)" style="font-family:'Liberation Serif','Times New Roman',serif;stroke:#fff;stroke-width:0.5px;font-size:47px" text-anchor="end">900</text>
<text transform="translate(190.9 181.2) scale(0.99 1.04)" style="font-family:'Liberation Serif','Times New Roman',serif;stroke:#fff;stroke-width:0.5px;font-size:47px" text-anchor="end">1000</text>
<text transform="translate(190.9 117.7) scale(0.99 1.04)" style="font-family:'Liberation Serif','Times New Roman',serif;stroke:#fff;stroke-width:0.5px;font-size:47px" text-anchor="end">1100</text>
<text transform="translate(190.9 54.1) scale(0.99 1.04)" style="font-family:'Liberation Serif','Times New Roman',serif;stroke:#fff;stroke-width:0.5px;font-size:47px" text-anchor="end">1200</text>
<text transform="translate(232.7 859.3) scale(1.08 1.0)" style="font-family:'Liberation Sans',Arial,sans-serif;stroke:#fff;stroke-width:0.7px;font-size:42.5px" text-anchor="middle">0</text>
<text transform="translate(330.3 859.3) scale(1.08 1.0)" style="font-family:'Liberation Sans',Arial,sans-serif;stroke:#fff;stroke-width:0.7px;font-size:42.5px" text-anchor="middle">1</text>
<text transform="translate(437.1 859.3) scale(1.08 1.0)" style="font-family:'Liberation Sans',Arial,sans-serif;stroke:#fff;stroke-width:0.7px;font-size:42.5px" text-anchor="middle">2</text>
<text transform="translate(532.2 859.3) scale(1.08 1.0)" style="font-family:'Liberation Sans',Arial,sans-serif;stroke:#fff;stroke-width:0.7px;font-size:42.5px" text-anchor="middle">3</text>
<text transform="translate(639.6 859.3) scale(1.08 1.0)" style="font-family:'Liberation Sans',Arial,sans-serif;stroke:#fff;stroke-width:0.7px;font-size:42.5px" text-anchor="middle">4</text>
<text transform="translate(736.3 859.3) scale(1.08 1.0)" style="font-family:'Liberation Sans',Arial,sans-serif;stroke:#fff;stroke-width:0.7px;font-size:42.5px" text-anchor="middle">5</text>
<text transform="translate(843.9 859.3) scale(1.08 1.0)" style="font-family:'Liberation Sans',Arial,sans-serif;stroke:#fff;stroke-width:0.7px;font-size:42.5px" text-anchor="middle">6</text>
<text transform="translate(941 859.3) scale(1.08 1.0)" style="font-family:'Liberation Sans',Arial,sans-serif;stroke:#fff;stroke-width:0.7px;font-size:42.5px" text-anchor="middle">7</text>
<text transform="translate(1048 859.3) scale(1.08 1.0)" style="font-family:'Liberation Sans',Arial,sans-serif;stroke:#fff;stroke-width:0.7px;font-size:42.5px" text-anchor="middle">8</text>
<text transform="translate(1154.6 859.3) scale(1.08 1.0)" style="font-family:'Liberation Sans',Arial,sans-serif;stroke:#fff;stroke-width:0.7px;font-size:42.5px" text-anchor="middle">9</text>
<text transform="translate(1252.8 859.3) scale(1.08 1.0)" style="font-family:'Liberation Sans',Arial,sans-serif;stroke:#fff;stroke-width:0.7px;font-size:42.5px" text-anchor="middle">10</text>
<text transform="translate(1362.4 859.3) scale(1.08 1.0)" style="font-family:'Liberation Sans',Arial,sans-serif;stroke:#fff;stroke-width:0.7px;font-size:42.5px" text-anchor="middle">11</text>
<text transform="translate(1462 859.3) scale(1.08 1.0)" style="font-family:'Liberation Sans',Arial,sans-serif;stroke:#fff;stroke-width:0.7px;font-size:42.5px" text-anchor="middle">12</text>
<text transform="translate(1560.4 859.3) scale(1.08 1.0)" style="font-family:'Liberation Sans',Arial,sans-serif;stroke:#fff;stroke-width:0.7px;font-size:42.5px" text-anchor="middle">13</text>
<text transform="translate(878.2 915.5) scale(1.0 1.02)" style="font-family:'Liberation Serif','Times New Roman',serif;stroke:#fff;stroke-width:0.5px;font-size:47px" text-anchor="middle">Strain [%]</text>
<text transform="translate(54 466.8) rotate(-90)" style="font-family:'Liberation Serif','Times New Roman',serif;stroke:#fff;stroke-width:0.5px;font-size:47.6px" text-anchor="middle">Stress [ MPa]</text>
<rect x="938" y="298" width="632" height="54" fill="#fff"/>
<text transform="translate(942.4 345)" style="font-family:'Liberation Serif','Times New Roman',serif;stroke:#fff;stroke-width:0.5px;font-size:46.2px">Ultimate tensile stress: 1080 MPa</text>
<text transform="translate(716.4 440.2)" style="font-family:'Liberation Serif','Times New Roman',serif;stroke:#fff;stroke-width:0.5px;font-size:46.5px">Yield strength: 880 MPa</text>
<text transform="translate(572.6 783.6)" style="font-family:'Liberation Serif','Times New Roman',serif;stroke:#fff;stroke-width:0.5px;font-size:46.3px">Maximum total elongation 13.4</text>
<text transform="translate(1371.3 497.2)" style="font-family:'Liberation Serif','Times New Roman',serif;word-spacing:-5.6px;font-size:36.2px">Specimen 1)</text>
<text transform="translate(1371.3 538.9)" style="font-family:'Liberation Serif','Times New Roman',serif;word-spacing:-5.6px;font-size:36.2px">Specimen 2)</text>
<text transform="translate(1371.3 580.2)" style="font-family:'Liberation Serif','Times New Roman',serif;word-spacing:-5.6px;font-size:36.2px">Specimen 3)</text>
<text transform="translate(1371.3 622.1)" style="font-family:'Liberation Serif','Times New Roman',serif;word-spacing:-5.6px;font-size:36.2px">Specimen 4)</text>
<text transform="translate(1371.3 663.8)" style="font-family:'Liberation Serif','Times New Roman',serif;word-spacing:-5.6px;font-size:36.2px">Specimen 5)</text>
</svg>
</body></html>
